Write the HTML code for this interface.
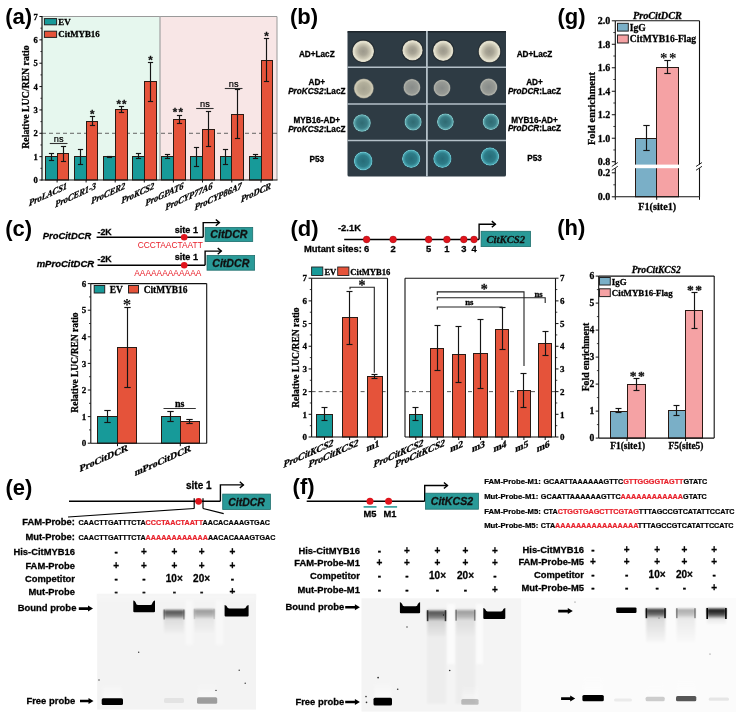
<!DOCTYPE html>
<html><head><meta charset="utf-8"><title>CitMYB16 figure</title>
<style>html,body{margin:0;padding:0;background:#fff;overflow:hidden;}svg{display:block;}</style></head>
<body><svg width="736" height="720" viewBox="0 0 736 720">
<defs>
<radialGradient id="g_white" cx="0.5" cy="0.5" r="0.5">
<stop offset="0" stop-color="#9c998c"/><stop offset="0.35" stop-color="#a9a596"/><stop offset="0.7" stop-color="#cdc9b6"/><stop offset="0.86" stop-color="#e4e1cf"/><stop offset="0.95" stop-color="#dedbc9"/><stop offset="1" stop-color="#8e8d82"/></radialGradient>
<radialGradient id="g_grey" cx="0.5" cy="0.5" r="0.5">
<stop offset="0" stop-color="#a4a190"/><stop offset="0.6" stop-color="#b3b09c"/><stop offset="0.88" stop-color="#cfcbb6"/><stop offset="1" stop-color="#808078"/></radialGradient>
<radialGradient id="g_grey2" cx="0.5" cy="0.5" r="0.5">
<stop offset="0" stop-color="#878b89"/><stop offset="0.7" stop-color="#979a95"/><stop offset="0.9" stop-color="#afb1a9"/><stop offset="1" stop-color="#676d70"/></radialGradient>
<radialGradient id="g_blue" cx="0.5" cy="0.5" r="0.5">
<stop offset="0" stop-color="#2f6a72"/><stop offset="0.6" stop-color="#3a7c85"/><stop offset="0.85" stop-color="#5aa4aa"/><stop offset="0.95" stop-color="#8fd0d2"/><stop offset="1" stop-color="#4c8a90"/></radialGradient>
<radialGradient id="g_blue2" cx="0.5" cy="0.5" r="0.5">
<stop offset="0" stop-color="#266c78"/><stop offset="0.6" stop-color="#2e7c88"/><stop offset="0.85" stop-color="#46a2ae"/><stop offset="0.95" stop-color="#76ccd6"/><stop offset="1" stop-color="#2e6c78"/></radialGradient>
<linearGradient id="smearG" x1="0" y1="0" x2="0" y2="1"><stop offset="0" stop-color="#000" stop-opacity="0.9"/><stop offset="0.35" stop-color="#000" stop-opacity="0.35"/><stop offset="1" stop-color="#000" stop-opacity="0.05"/></linearGradient>
<linearGradient id="bandG" x1="0" y1="0" x2="0" y2="1"><stop offset="0" stop-color="#000" stop-opacity="0.95"/><stop offset="0.6" stop-color="#000" stop-opacity="0.7"/><stop offset="1" stop-color="#000" stop-opacity="0.25"/></linearGradient>
<linearGradient id="glowG" x1="0" y1="0" x2="0" y2="1"><stop offset="0" stop-color="#000" stop-opacity="0"/><stop offset="1" stop-color="#000" stop-opacity="1"/></linearGradient>
<linearGradient id="glowW" x1="0" y1="0" x2="0" y2="1"><stop offset="0" stop-color="#fff" stop-opacity="0"/><stop offset="1" stop-color="#fff" stop-opacity="0.9"/></linearGradient>
<filter id="bl06" x="-30%" y="-80%" width="160%" height="260%"><feGaussianBlur stdDeviation="0.55"/></filter>
<filter id="bl1" x="-30%" y="-80%" width="160%" height="260%"><feGaussianBlur stdDeviation="0.9"/></filter>
<filter id="bl2" x="-30%" y="-30%" width="160%" height="160%"><feGaussianBlur stdDeviation="2"/></filter>
</defs>
<rect x="0" y="0" width="736" height="720" fill="#fff"/>
<rect x="42.00" y="16.50" width="118.00" height="163.50" fill="#e6f7ee" stroke="none" stroke-width="1"/>
<rect x="160.00" y="16.50" width="117.00" height="163.50" fill="#f8e6e6" stroke="none" stroke-width="1"/>
<line x1="42.00" y1="16.50" x2="277.00" y2="16.50" stroke="#9a9a9a" stroke-width="1"/>
<line x1="277.00" y1="16.50" x2="277.00" y2="180.00" stroke="#9a9a9a" stroke-width="1"/>
<line x1="160.00" y1="16.50" x2="160.00" y2="180.00" stroke="#a8a8a8" stroke-width="1.3"/>
<line x1="42.00" y1="133.29" x2="277.00" y2="133.29" stroke="#555" stroke-width="0.9" stroke-dasharray="4,3"/>
<rect x="45.50" y="156.50" width="12.00" height="23.50" fill="#179a99" stroke="#2a1a14" stroke-width="1"/>
<rect x="57.50" y="153.50" width="11.00" height="26.50" fill="#e5533a" stroke="#2a1a14" stroke-width="1"/>
<line x1="51.50" y1="153.50" x2="51.50" y2="160.50" stroke="#151515" stroke-width="1.15"/>
<line x1="48.90" y1="153.50" x2="54.10" y2="153.50" stroke="#151515" stroke-width="1.15"/>
<line x1="48.90" y1="160.50" x2="54.10" y2="160.50" stroke="#151515" stroke-width="1.15"/>
<line x1="63.50" y1="146.50" x2="63.50" y2="161.50" stroke="#151515" stroke-width="1.15"/>
<line x1="60.90" y1="146.50" x2="66.10" y2="146.50" stroke="#151515" stroke-width="1.15"/>
<line x1="60.90" y1="161.50" x2="66.10" y2="161.50" stroke="#151515" stroke-width="1.15"/>
<rect x="74.50" y="156.50" width="12.00" height="23.50" fill="#179a99" stroke="#2a1a14" stroke-width="1"/>
<rect x="86.50" y="121.50" width="11.00" height="58.50" fill="#e5533a" stroke="#2a1a14" stroke-width="1"/>
<line x1="80.50" y1="149.50" x2="80.50" y2="164.50" stroke="#151515" stroke-width="1.15"/>
<line x1="77.90" y1="149.50" x2="83.10" y2="149.50" stroke="#151515" stroke-width="1.15"/>
<line x1="77.90" y1="164.50" x2="83.10" y2="164.50" stroke="#151515" stroke-width="1.15"/>
<line x1="92.50" y1="116.50" x2="92.50" y2="125.50" stroke="#151515" stroke-width="1.15"/>
<line x1="89.90" y1="116.50" x2="95.10" y2="116.50" stroke="#151515" stroke-width="1.15"/>
<line x1="89.90" y1="125.50" x2="95.10" y2="125.50" stroke="#151515" stroke-width="1.15"/>
<rect x="103.50" y="156.50" width="12.00" height="23.50" fill="#179a99" stroke="#2a1a14" stroke-width="1"/>
<rect x="115.50" y="109.50" width="12.00" height="70.50" fill="#e5533a" stroke="#2a1a14" stroke-width="1"/>
<line x1="109.50" y1="156.50" x2="109.50" y2="157.50" stroke="#151515" stroke-width="1.15"/>
<line x1="106.90" y1="156.50" x2="112.10" y2="156.50" stroke="#151515" stroke-width="1.15"/>
<line x1="106.90" y1="157.50" x2="112.10" y2="157.50" stroke="#151515" stroke-width="1.15"/>
<line x1="121.50" y1="106.50" x2="121.50" y2="112.50" stroke="#151515" stroke-width="1.15"/>
<line x1="118.90" y1="106.50" x2="124.10" y2="106.50" stroke="#151515" stroke-width="1.15"/>
<line x1="118.90" y1="112.50" x2="124.10" y2="112.50" stroke="#151515" stroke-width="1.15"/>
<rect x="132.50" y="156.50" width="12.00" height="23.50" fill="#179a99" stroke="#2a1a14" stroke-width="1"/>
<rect x="144.50" y="81.50" width="12.00" height="98.50" fill="#e5533a" stroke="#2a1a14" stroke-width="1"/>
<line x1="138.50" y1="153.50" x2="138.50" y2="158.50" stroke="#151515" stroke-width="1.15"/>
<line x1="135.90" y1="153.50" x2="141.10" y2="153.50" stroke="#151515" stroke-width="1.15"/>
<line x1="135.90" y1="158.50" x2="141.10" y2="158.50" stroke="#151515" stroke-width="1.15"/>
<line x1="150.50" y1="62.50" x2="150.50" y2="101.50" stroke="#151515" stroke-width="1.15"/>
<line x1="147.90" y1="62.50" x2="153.10" y2="62.50" stroke="#151515" stroke-width="1.15"/>
<line x1="147.90" y1="101.50" x2="153.10" y2="101.50" stroke="#151515" stroke-width="1.15"/>
<rect x="161.50" y="156.50" width="12.00" height="23.50" fill="#179a99" stroke="#2a1a14" stroke-width="1"/>
<rect x="173.50" y="119.50" width="12.00" height="60.50" fill="#e5533a" stroke="#2a1a14" stroke-width="1"/>
<line x1="167.50" y1="154.50" x2="167.50" y2="158.50" stroke="#151515" stroke-width="1.15"/>
<line x1="164.90" y1="154.50" x2="170.10" y2="154.50" stroke="#151515" stroke-width="1.15"/>
<line x1="164.90" y1="158.50" x2="170.10" y2="158.50" stroke="#151515" stroke-width="1.15"/>
<line x1="179.50" y1="115.50" x2="179.50" y2="123.50" stroke="#151515" stroke-width="1.15"/>
<line x1="176.90" y1="115.50" x2="182.10" y2="115.50" stroke="#151515" stroke-width="1.15"/>
<line x1="176.90" y1="123.50" x2="182.10" y2="123.50" stroke="#151515" stroke-width="1.15"/>
<rect x="190.50" y="156.50" width="12.00" height="23.50" fill="#179a99" stroke="#2a1a14" stroke-width="1"/>
<rect x="202.50" y="129.50" width="12.00" height="50.50" fill="#e5533a" stroke="#2a1a14" stroke-width="1"/>
<line x1="196.50" y1="147.50" x2="196.50" y2="166.50" stroke="#151515" stroke-width="1.15"/>
<line x1="193.90" y1="147.50" x2="199.10" y2="147.50" stroke="#151515" stroke-width="1.15"/>
<line x1="193.90" y1="166.50" x2="199.10" y2="166.50" stroke="#151515" stroke-width="1.15"/>
<line x1="208.50" y1="111.50" x2="208.50" y2="146.50" stroke="#151515" stroke-width="1.15"/>
<line x1="205.90" y1="111.50" x2="211.10" y2="111.50" stroke="#151515" stroke-width="1.15"/>
<line x1="205.90" y1="146.50" x2="211.10" y2="146.50" stroke="#151515" stroke-width="1.15"/>
<rect x="220.50" y="156.50" width="11.00" height="23.50" fill="#179a99" stroke="#2a1a14" stroke-width="1"/>
<rect x="231.50" y="114.50" width="12.00" height="65.50" fill="#e5533a" stroke="#2a1a14" stroke-width="1"/>
<line x1="225.50" y1="149.50" x2="225.50" y2="164.50" stroke="#151515" stroke-width="1.15"/>
<line x1="222.90" y1="149.50" x2="228.10" y2="149.50" stroke="#151515" stroke-width="1.15"/>
<line x1="222.90" y1="164.50" x2="228.10" y2="164.50" stroke="#151515" stroke-width="1.15"/>
<line x1="237.50" y1="89.50" x2="237.50" y2="138.50" stroke="#151515" stroke-width="1.15"/>
<line x1="234.90" y1="89.50" x2="240.10" y2="89.50" stroke="#151515" stroke-width="1.15"/>
<line x1="234.90" y1="138.50" x2="240.10" y2="138.50" stroke="#151515" stroke-width="1.15"/>
<rect x="249.50" y="156.50" width="12.00" height="23.50" fill="#179a99" stroke="#2a1a14" stroke-width="1"/>
<rect x="261.50" y="60.50" width="11.00" height="119.50" fill="#e5533a" stroke="#2a1a14" stroke-width="1"/>
<line x1="255.50" y1="154.50" x2="255.50" y2="158.50" stroke="#151515" stroke-width="1.15"/>
<line x1="252.90" y1="154.50" x2="258.10" y2="154.50" stroke="#151515" stroke-width="1.15"/>
<line x1="252.90" y1="158.50" x2="258.10" y2="158.50" stroke="#151515" stroke-width="1.15"/>
<line x1="266.50" y1="38.50" x2="266.50" y2="81.50" stroke="#151515" stroke-width="1.15"/>
<line x1="263.90" y1="38.50" x2="269.10" y2="38.50" stroke="#151515" stroke-width="1.15"/>
<line x1="263.90" y1="81.50" x2="269.10" y2="81.50" stroke="#151515" stroke-width="1.15"/>
<line x1="42.00" y1="16.00" x2="42.00" y2="180.50" stroke="#111" stroke-width="1.2"/>
<line x1="41.50" y1="180.00" x2="277.50" y2="180.00" stroke="#111" stroke-width="1.2"/>
<line x1="39.40" y1="180.00" x2="42.00" y2="180.00" stroke="#111" stroke-width="1"/>
<text x="37.80" y="183.00" text-anchor="end" fill="#000" style="font-family:'Liberation Serif', 'Times New Roman', serif;font-size:8.6px;font-weight:bold;font-style:normal" stroke="#000" stroke-width="0.28">0</text>
<line x1="39.40" y1="156.64" x2="42.00" y2="156.64" stroke="#111" stroke-width="1"/>
<text x="37.80" y="159.64" text-anchor="end" fill="#000" style="font-family:'Liberation Serif', 'Times New Roman', serif;font-size:8.6px;font-weight:bold;font-style:normal" stroke="#000" stroke-width="0.28">1</text>
<line x1="39.40" y1="133.29" x2="42.00" y2="133.29" stroke="#111" stroke-width="1"/>
<text x="37.80" y="136.29" text-anchor="end" fill="#000" style="font-family:'Liberation Serif', 'Times New Roman', serif;font-size:8.6px;font-weight:bold;font-style:normal" stroke="#000" stroke-width="0.28">2</text>
<line x1="39.40" y1="109.93" x2="42.00" y2="109.93" stroke="#111" stroke-width="1"/>
<text x="37.80" y="112.93" text-anchor="end" fill="#000" style="font-family:'Liberation Serif', 'Times New Roman', serif;font-size:8.6px;font-weight:bold;font-style:normal" stroke="#000" stroke-width="0.28">3</text>
<line x1="39.40" y1="86.57" x2="42.00" y2="86.57" stroke="#111" stroke-width="1"/>
<text x="37.80" y="89.57" text-anchor="end" fill="#000" style="font-family:'Liberation Serif', 'Times New Roman', serif;font-size:8.6px;font-weight:bold;font-style:normal" stroke="#000" stroke-width="0.28">4</text>
<line x1="39.40" y1="63.21" x2="42.00" y2="63.21" stroke="#111" stroke-width="1"/>
<text x="37.80" y="66.21" text-anchor="end" fill="#000" style="font-family:'Liberation Serif', 'Times New Roman', serif;font-size:8.6px;font-weight:bold;font-style:normal" stroke="#000" stroke-width="0.28">5</text>
<line x1="39.40" y1="39.86" x2="42.00" y2="39.86" stroke="#111" stroke-width="1"/>
<text x="37.80" y="42.86" text-anchor="end" fill="#000" style="font-family:'Liberation Serif', 'Times New Roman', serif;font-size:8.6px;font-weight:bold;font-style:normal" stroke="#000" stroke-width="0.28">6</text>
<line x1="39.40" y1="16.50" x2="42.00" y2="16.50" stroke="#111" stroke-width="1"/>
<text x="37.80" y="19.50" text-anchor="end" fill="#000" style="font-family:'Liberation Serif', 'Times New Roman', serif;font-size:8.6px;font-weight:bold;font-style:normal" stroke="#000" stroke-width="0.28">7</text>
<line x1="40.40" y1="168.32" x2="42.00" y2="168.32" stroke="#111" stroke-width="0.8"/>
<line x1="40.40" y1="144.96" x2="42.00" y2="144.96" stroke="#111" stroke-width="0.8"/>
<line x1="40.40" y1="121.61" x2="42.00" y2="121.61" stroke="#111" stroke-width="0.8"/>
<line x1="40.40" y1="98.25" x2="42.00" y2="98.25" stroke="#111" stroke-width="0.8"/>
<line x1="40.40" y1="74.89" x2="42.00" y2="74.89" stroke="#111" stroke-width="0.8"/>
<line x1="40.40" y1="51.54" x2="42.00" y2="51.54" stroke="#111" stroke-width="0.8"/>
<line x1="40.40" y1="28.18" x2="42.00" y2="28.18" stroke="#111" stroke-width="0.8"/>
<line x1="57.10" y1="180.00" x2="57.10" y2="182.50" stroke="#111" stroke-width="1"/>
<line x1="86.10" y1="180.00" x2="86.10" y2="182.50" stroke="#111" stroke-width="1"/>
<line x1="115.20" y1="180.00" x2="115.20" y2="182.50" stroke="#111" stroke-width="1"/>
<line x1="144.30" y1="180.00" x2="144.30" y2="182.50" stroke="#111" stroke-width="1"/>
<line x1="173.40" y1="180.00" x2="173.40" y2="182.50" stroke="#111" stroke-width="1"/>
<line x1="202.50" y1="180.00" x2="202.50" y2="182.50" stroke="#111" stroke-width="1"/>
<line x1="231.80" y1="180.00" x2="231.80" y2="182.50" stroke="#111" stroke-width="1"/>
<line x1="261.00" y1="180.00" x2="261.00" y2="182.50" stroke="#111" stroke-width="1"/>
<text x="28.50" y="97.00" text-anchor="middle" fill="#000" style="font-family:'Liberation Serif', 'Times New Roman', serif;font-size:9.8px;font-weight:bold;font-style:normal" stroke="#000" stroke-width="0.28" transform="rotate(-90 28.50 97.00)">Relative LUC/REN ratio</text>
<text x="67.10" y="188.50" text-anchor="end" fill="#000" style="font-family:'Liberation Serif', 'Times New Roman', serif;font-size:9.4px;font-weight:bold;font-style:italic" stroke="#000" stroke-width="0.28" transform="translate(67.10 188.50) skewY(-25) scale(0.9 1) translate(-67.10 -188.50)">ProLACS1</text>
<text x="96.10" y="188.50" text-anchor="end" fill="#000" style="font-family:'Liberation Serif', 'Times New Roman', serif;font-size:9.4px;font-weight:bold;font-style:italic" stroke="#000" stroke-width="0.28" transform="translate(96.10 188.50) skewY(-25) scale(0.9 1) translate(-96.10 -188.50)">ProCER1-3</text>
<text x="125.20" y="188.50" text-anchor="end" fill="#000" style="font-family:'Liberation Serif', 'Times New Roman', serif;font-size:9.4px;font-weight:bold;font-style:italic" stroke="#000" stroke-width="0.28" transform="translate(125.20 188.50) skewY(-25) scale(0.9 1) translate(-125.20 -188.50)">ProCER2</text>
<text x="154.30" y="188.50" text-anchor="end" fill="#000" style="font-family:'Liberation Serif', 'Times New Roman', serif;font-size:9.4px;font-weight:bold;font-style:italic" stroke="#000" stroke-width="0.28" transform="translate(154.30 188.50) skewY(-25) scale(0.9 1) translate(-154.30 -188.50)">ProKCS2</text>
<text x="183.40" y="188.50" text-anchor="end" fill="#000" style="font-family:'Liberation Serif', 'Times New Roman', serif;font-size:9.4px;font-weight:bold;font-style:italic" stroke="#000" stroke-width="0.28" transform="translate(183.40 188.50) skewY(-25) scale(0.9 1) translate(-183.40 -188.50)">ProGPAT6</text>
<text x="212.50" y="188.50" text-anchor="end" fill="#000" style="font-family:'Liberation Serif', 'Times New Roman', serif;font-size:9.4px;font-weight:bold;font-style:italic" stroke="#000" stroke-width="0.28" transform="translate(212.50 188.50) skewY(-25) scale(0.9 1) translate(-212.50 -188.50)">ProCYP77A6</text>
<text x="241.80" y="188.50" text-anchor="end" fill="#000" style="font-family:'Liberation Serif', 'Times New Roman', serif;font-size:9.4px;font-weight:bold;font-style:italic" stroke="#000" stroke-width="0.28" transform="translate(241.80 188.50) skewY(-25) scale(0.9 1) translate(-241.80 -188.50)">ProCYP86A7</text>
<text x="271.00" y="188.50" text-anchor="end" fill="#000" style="font-family:'Liberation Serif', 'Times New Roman', serif;font-size:9.4px;font-weight:bold;font-style:italic" stroke="#000" stroke-width="0.28" transform="translate(271.00 188.50) skewY(-25) scale(0.9 1) translate(-271.00 -188.50)">ProDCR</text>
<line x1="49.80" y1="143.50" x2="67.50" y2="143.50" stroke="#333" stroke-width="1.1"/>
<text x="58.65" y="141.60" text-anchor="middle" fill="#000" style="font-family:'Liberation Sans', Arial, sans-serif;font-size:9.2px;font-weight:normal;font-style:normal" stroke="#000" stroke-width="0.2">ns</text>
<line x1="196.20" y1="108.50" x2="213.60" y2="108.50" stroke="#333" stroke-width="1.1"/>
<text x="204.90" y="106.60" text-anchor="middle" fill="#000" style="font-family:'Liberation Sans', Arial, sans-serif;font-size:9.2px;font-weight:normal;font-style:normal" stroke="#000" stroke-width="0.2">ns</text>
<line x1="224.80" y1="88.50" x2="242.50" y2="88.50" stroke="#333" stroke-width="1.1"/>
<text x="233.65" y="86.60" text-anchor="middle" fill="#000" style="font-family:'Liberation Sans', Arial, sans-serif;font-size:9.2px;font-weight:normal;font-style:normal" stroke="#000" stroke-width="0.2">ns</text>
<text x="92.30" y="118.03" text-anchor="middle" fill="#111" style="font-family:'Liberation Sans', Arial, sans-serif;font-size:11.5px;font-weight:bold;font-style:normal" stroke="#111" stroke-width="0.28">*</text>
<text x="122.10" y="107.53" text-anchor="middle" fill="#111" style="font-family:'Liberation Sans', Arial, sans-serif;font-size:11.5px;font-weight:bold;font-style:normal" stroke="#111" stroke-width="0.28" letter-spacing="1.2">**</text>
<text x="150.40" y="64.03" text-anchor="middle" fill="#111" style="font-family:'Liberation Sans', Arial, sans-serif;font-size:11.5px;font-weight:bold;font-style:normal" stroke="#111" stroke-width="0.28">*</text>
<text x="178.50" y="116.33" text-anchor="middle" fill="#111" style="font-family:'Liberation Sans', Arial, sans-serif;font-size:11.5px;font-weight:bold;font-style:normal" stroke="#111" stroke-width="0.28" letter-spacing="1.2">**</text>
<text x="266.50" y="39.93" text-anchor="middle" fill="#111" style="font-family:'Liberation Sans', Arial, sans-serif;font-size:11.5px;font-weight:bold;font-style:normal" stroke="#111" stroke-width="0.28">*</text>
<rect x="44.40" y="18.60" width="12.20" height="6.20" fill="#179a99" stroke="#222" stroke-width="1"/>
<text x="58.30" y="24.90" text-anchor="start" fill="#000" style="font-family:'Liberation Serif', 'Times New Roman', serif;font-size:8.9px;font-weight:bold;font-style:normal" stroke="#000" stroke-width="0.28">EV</text>
<rect x="44.40" y="31.20" width="12.20" height="6.20" fill="#e5533a" stroke="#222" stroke-width="1"/>
<text x="58.30" y="37.40" text-anchor="start" fill="#000" style="font-family:'Liberation Serif', 'Times New Roman', serif;font-size:8.9px;font-weight:bold;font-style:normal" stroke="#000" stroke-width="0.28">CitMYB16</text>
<text x="5.20" y="23.70" text-anchor="start" fill="#000" style="font-family:'Liberation Sans', Arial, sans-serif;font-size:22px;font-weight:bold;font-style:normal">(a)</text>
<text x="290.00" y="23.60" text-anchor="start" fill="#000" style="font-family:'Liberation Sans', Arial, sans-serif;font-size:22px;font-weight:bold;font-style:normal">(b)</text>
<rect x="347.5" y="31.0" width="158.5" height="145.5" fill="#2e3b44" rx="1.5"/>
<line x1="347.50" y1="31.80" x2="506.00" y2="31.80" stroke="#1d252b" stroke-width="1.6"/>
<line x1="347.50" y1="67.30" x2="506.00" y2="67.30" stroke="#b4c0c8" stroke-width="1.6"/>
<line x1="347.50" y1="104.00" x2="506.00" y2="104.00" stroke="#b4c0c8" stroke-width="1.6"/>
<line x1="347.50" y1="140.50" x2="506.00" y2="140.50" stroke="#b4c0c8" stroke-width="1.6"/>
<line x1="426.90" y1="31.00" x2="426.90" y2="176.50" stroke="#b4c0c8" stroke-width="1.8"/>
<circle cx="363.20" cy="51.30" r="11.70" fill="#1c2228" opacity="0.7"/>
<circle cx="363.20" cy="51.30" r="10.80" fill="url(#g_white)"/>
<circle cx="412.50" cy="50.30" r="11.10" fill="#1c2228" opacity="0.7"/>
<circle cx="412.50" cy="50.30" r="10.20" fill="url(#g_white)"/>
<circle cx="443.20" cy="50.70" r="11.10" fill="#1c2228" opacity="0.7"/>
<circle cx="443.20" cy="50.70" r="10.20" fill="url(#g_white)"/>
<circle cx="489.50" cy="51.50" r="11.80" fill="#1c2228" opacity="0.7"/>
<circle cx="489.50" cy="51.50" r="10.90" fill="url(#g_white)"/>
<circle cx="363.80" cy="88.50" r="10.00" fill="url(#g_grey)"/>
<circle cx="411.90" cy="87.40" r="8.60" fill="url(#g_grey2)"/>
<circle cx="442.00" cy="88.00" r="8.60" fill="url(#g_grey2)"/>
<circle cx="488.70" cy="87.10" r="8.80" fill="url(#g_grey2)"/>
<circle cx="362.00" cy="123.00" r="8.80" fill="url(#g_blue)"/>
<circle cx="413.10" cy="122.00" r="8.60" fill="url(#g_blue)"/>
<circle cx="445.40" cy="121.80" r="8.40" fill="url(#g_blue)"/>
<circle cx="490.90" cy="121.80" r="8.20" fill="url(#g_blue)"/>
<circle cx="363.20" cy="161.00" r="9.40" fill="url(#g_blue2)"/>
<circle cx="411.20" cy="158.70" r="9.20" fill="url(#g_blue2)"/>
<circle cx="442.40" cy="158.70" r="9.20" fill="url(#g_blue2)"/>
<circle cx="490.00" cy="156.50" r="9.20" fill="url(#g_blue2)"/>
<text x="316.80" y="57.10" text-anchor="middle" fill="#000" style="font-family:'Liberation Sans', Arial, sans-serif;font-size:8.2px;font-weight:bold;font-style:normal" stroke="#000" stroke-width="0.28">AD+LacZ</text>
<text x="316.80" y="85.40" text-anchor="middle" fill="#000" style="font-family:'Liberation Sans', Arial, sans-serif;font-size:8.2px;font-weight:bold;font-style:normal" stroke="#000" stroke-width="0.28">AD+</text>
<text x="316.80" y="94.00" text-anchor="middle" style="font-family:'Liberation Sans', Arial, sans-serif;font-size:8.2px;font-weight:bold" stroke="#000" stroke-width="0.28"><tspan font-style="italic">ProKCS2</tspan>:LacZ</text>
<text x="316.80" y="122.90" text-anchor="middle" fill="#000" style="font-family:'Liberation Sans', Arial, sans-serif;font-size:8.2px;font-weight:bold;font-style:normal" stroke="#000" stroke-width="0.28">MYB16-AD+</text>
<text x="316.80" y="131.70" text-anchor="middle" style="font-family:'Liberation Sans', Arial, sans-serif;font-size:8.2px;font-weight:bold" stroke="#000" stroke-width="0.28"><tspan font-style="italic">ProKCS2</tspan>:LacZ</text>
<text x="316.80" y="161.50" text-anchor="middle" fill="#000" style="font-family:'Liberation Sans', Arial, sans-serif;font-size:8.2px;font-weight:bold;font-style:normal" stroke="#000" stroke-width="0.28">P53</text>
<text x="534.50" y="56.70" text-anchor="middle" fill="#000" style="font-family:'Liberation Sans', Arial, sans-serif;font-size:8.2px;font-weight:bold;font-style:normal" stroke="#000" stroke-width="0.28">AD+LacZ</text>
<text x="534.50" y="85.40" text-anchor="middle" fill="#000" style="font-family:'Liberation Sans', Arial, sans-serif;font-size:8.2px;font-weight:bold;font-style:normal" stroke="#000" stroke-width="0.28">AD+</text>
<text x="534.50" y="93.75" text-anchor="middle" style="font-family:'Liberation Sans', Arial, sans-serif;font-size:8.2px;font-weight:bold" stroke="#000" stroke-width="0.28"><tspan font-style="italic">ProDCR</tspan>:LacZ</text>
<text x="534.50" y="122.60" text-anchor="middle" fill="#000" style="font-family:'Liberation Sans', Arial, sans-serif;font-size:8.2px;font-weight:bold;font-style:normal" stroke="#000" stroke-width="0.28">MYB16-AD+</text>
<text x="534.50" y="131.40" text-anchor="middle" style="font-family:'Liberation Sans', Arial, sans-serif;font-size:8.2px;font-weight:bold" stroke="#000" stroke-width="0.28"><tspan font-style="italic">ProDCR</tspan>:LacZ</text>
<text x="534.50" y="161.20" text-anchor="middle" fill="#000" style="font-family:'Liberation Sans', Arial, sans-serif;font-size:8.2px;font-weight:bold;font-style:normal" stroke="#000" stroke-width="0.28">P53</text>
<text x="557.50" y="23.75" text-anchor="start" fill="#000" style="font-family:'Liberation Sans', Arial, sans-serif;font-size:22px;font-weight:bold;font-style:normal">(g)</text>
<rect x="635.50" y="138.50" width="21.00" height="58.30" fill="#7aafc7" stroke="#2a1a14" stroke-width="1"/>
<rect x="656.50" y="67.50" width="22.00" height="129.30" fill="#f5a2a4" stroke="#2a1a14" stroke-width="1"/>
<line x1="646.50" y1="125.50" x2="646.50" y2="150.50" stroke="#151515" stroke-width="1.15"/>
<line x1="643.30" y1="125.50" x2="649.70" y2="125.50" stroke="#151515" stroke-width="1.15"/>
<line x1="643.30" y1="150.50" x2="649.70" y2="150.50" stroke="#151515" stroke-width="1.15"/>
<line x1="667.50" y1="60.50" x2="667.50" y2="73.50" stroke="#151515" stroke-width="1.15"/>
<line x1="664.30" y1="60.50" x2="670.70" y2="60.50" stroke="#151515" stroke-width="1.15"/>
<line x1="664.30" y1="73.50" x2="670.70" y2="73.50" stroke="#151515" stroke-width="1.15"/>
<line x1="615.30" y1="20.80" x2="699.50" y2="20.80" stroke="#111" stroke-width="1.1"/>
<line x1="699.50" y1="20.80" x2="699.50" y2="196.80" stroke="#111" stroke-width="1.1"/>
<line x1="615.30" y1="20.80" x2="615.30" y2="196.80" stroke="#111" stroke-width="1.1"/>
<line x1="615.30" y1="196.80" x2="699.50" y2="196.80" stroke="#111" stroke-width="1.1"/>
<rect x="611.30" y="164.60" width="92.20" height="3.60" fill="#fff" stroke="none" stroke-width="1"/>
<line x1="611.80" y1="166.50" x2="617.80" y2="162.50" stroke="#111" stroke-width="0.9"/>
<line x1="611.80" y1="170.30" x2="617.80" y2="166.30" stroke="#111" stroke-width="0.9"/>
<line x1="696.00" y1="166.50" x2="702.00" y2="162.50" stroke="#111" stroke-width="0.9"/>
<line x1="696.00" y1="170.30" x2="702.00" y2="166.30" stroke="#111" stroke-width="0.9"/>
<line x1="611.80" y1="161.70" x2="615.30" y2="161.70" stroke="#111" stroke-width="1"/>
<text x="610.30" y="165.10" text-anchor="end" fill="#000" style="font-family:'Liberation Serif', 'Times New Roman', serif;font-size:10.0px;font-weight:bold;font-style:normal" stroke="#000" stroke-width="0.28">0.8</text>
<line x1="611.80" y1="138.22" x2="615.30" y2="138.22" stroke="#111" stroke-width="1"/>
<text x="610.30" y="141.62" text-anchor="end" fill="#000" style="font-family:'Liberation Serif', 'Times New Roman', serif;font-size:10.0px;font-weight:bold;font-style:normal" stroke="#000" stroke-width="0.28">1.0</text>
<line x1="611.80" y1="114.73" x2="615.30" y2="114.73" stroke="#111" stroke-width="1"/>
<text x="610.30" y="118.13" text-anchor="end" fill="#000" style="font-family:'Liberation Serif', 'Times New Roman', serif;font-size:10.0px;font-weight:bold;font-style:normal" stroke="#000" stroke-width="0.28">1.2</text>
<line x1="611.80" y1="91.25" x2="615.30" y2="91.25" stroke="#111" stroke-width="1"/>
<text x="610.30" y="94.65" text-anchor="end" fill="#000" style="font-family:'Liberation Serif', 'Times New Roman', serif;font-size:10.0px;font-weight:bold;font-style:normal" stroke="#000" stroke-width="0.28">1.4</text>
<line x1="611.80" y1="67.77" x2="615.30" y2="67.77" stroke="#111" stroke-width="1"/>
<text x="610.30" y="71.17" text-anchor="end" fill="#000" style="font-family:'Liberation Serif', 'Times New Roman', serif;font-size:10.0px;font-weight:bold;font-style:normal" stroke="#000" stroke-width="0.28">1.6</text>
<line x1="611.80" y1="44.28" x2="615.30" y2="44.28" stroke="#111" stroke-width="1"/>
<text x="610.30" y="47.68" text-anchor="end" fill="#000" style="font-family:'Liberation Serif', 'Times New Roman', serif;font-size:10.0px;font-weight:bold;font-style:normal" stroke="#000" stroke-width="0.28">1.8</text>
<line x1="611.80" y1="20.80" x2="615.30" y2="20.80" stroke="#111" stroke-width="1"/>
<text x="610.30" y="24.20" text-anchor="end" fill="#000" style="font-family:'Liberation Serif', 'Times New Roman', serif;font-size:10.0px;font-weight:bold;font-style:normal" stroke="#000" stroke-width="0.28">2.0</text>
<line x1="613.30" y1="149.96" x2="615.30" y2="149.96" stroke="#111" stroke-width="0.8"/>
<line x1="613.30" y1="126.47" x2="615.30" y2="126.47" stroke="#111" stroke-width="0.8"/>
<line x1="613.30" y1="102.99" x2="615.30" y2="102.99" stroke="#111" stroke-width="0.8"/>
<line x1="613.30" y1="79.51" x2="615.30" y2="79.51" stroke="#111" stroke-width="0.8"/>
<line x1="613.30" y1="56.03" x2="615.30" y2="56.03" stroke="#111" stroke-width="0.8"/>
<line x1="613.30" y1="32.54" x2="615.30" y2="32.54" stroke="#111" stroke-width="0.8"/>
<line x1="611.80" y1="196.80" x2="615.30" y2="196.80" stroke="#111" stroke-width="1"/>
<text x="610.30" y="200.20" text-anchor="end" fill="#000" style="font-family:'Liberation Serif', 'Times New Roman', serif;font-size:10.0px;font-weight:bold;font-style:normal" stroke="#000" stroke-width="0.28">0.0</text>
<line x1="611.80" y1="172.80" x2="615.30" y2="172.80" stroke="#111" stroke-width="1"/>
<text x="610.30" y="176.20" text-anchor="end" fill="#000" style="font-family:'Liberation Serif', 'Times New Roman', serif;font-size:10.0px;font-weight:bold;font-style:normal" stroke="#000" stroke-width="0.28">0.2</text>
<line x1="613.30" y1="184.80" x2="615.30" y2="184.80" stroke="#111" stroke-width="0.8"/>
<line x1="615.30" y1="196.80" x2="615.30" y2="199.80" stroke="#111" stroke-width="1"/>
<line x1="656.70" y1="196.80" x2="656.70" y2="199.80" stroke="#111" stroke-width="1"/>
<line x1="699.50" y1="196.80" x2="699.50" y2="199.80" stroke="#111" stroke-width="1"/>
<text x="657.20" y="210.00" text-anchor="middle" fill="#000" style="font-family:'Liberation Serif', 'Times New Roman', serif;font-size:10.2px;font-weight:bold;font-style:normal" stroke="#000" stroke-width="0.28">F1(site1)</text>
<text x="594.60" y="108.50" text-anchor="middle" fill="#000" style="font-family:'Liberation Serif', 'Times New Roman', serif;font-size:10.3px;font-weight:bold;font-style:normal" stroke="#000" stroke-width="0.28" transform="rotate(-90 594.60 108.50)">Fold enrichment</text>
<text x="657.40" y="18.60" text-anchor="middle" fill="#000" style="font-family:'Liberation Serif', 'Times New Roman', serif;font-size:10.25px;font-weight:bold;font-style:italic" stroke="#000" stroke-width="0.28">ProCitDCR</text>
<rect x="617.50" y="23.30" width="10.80" height="7.80" fill="#7aafc7" stroke="#222" stroke-width="1"/>
<text x="629.80" y="30.60" text-anchor="start" fill="#000" style="font-family:'Liberation Serif', 'Times New Roman', serif;font-size:9.65px;font-weight:bold;font-style:normal" stroke="#000" stroke-width="0.28">IgG</text>
<rect x="617.50" y="35.00" width="10.80" height="8.00" fill="#f5a2a4" stroke="#222" stroke-width="1"/>
<text x="629.80" y="42.40" text-anchor="start" fill="#000" style="font-family:'Liberation Serif', 'Times New Roman', serif;font-size:9.65px;font-weight:bold;font-style:normal" stroke="#000" stroke-width="0.28">CitMYB16-Flag</text>
<text x="668.95" y="63.10" text-anchor="middle" fill="#111" style="font-family:'Liberation Serif', 'Times New Roman', serif;font-size:15px;font-weight:bold;font-style:normal" letter-spacing="1.5">**</text>
<text x="5.20" y="236.00" text-anchor="start" fill="#000" style="font-family:'Liberation Sans', Arial, sans-serif;font-size:22px;font-weight:bold;font-style:normal">(c)</text>
<text x="91.30" y="238.80" text-anchor="end" fill="#000" style="font-family:'Liberation Sans', Arial, sans-serif;font-size:9.4px;font-weight:bold;font-style:italic" stroke="#000" stroke-width="0.28">ProCitDCR</text>
<text x="97.50" y="235.00" text-anchor="start" fill="#000" style="font-family:'Liberation Sans', Arial, sans-serif;font-size:8.8px;font-weight:bold;font-style:normal" stroke="#000" stroke-width="0.28">-2K</text>
<line x1="96.60" y1="237.30" x2="203.20" y2="237.30" stroke="#000" stroke-width="1.6"/>
<path d="M203.20,237.30 L203.20,222.60 L219.40,222.60" stroke="#000" stroke-width="1.4" fill="none"/>
<path d="M215.80,219.54 L219.40,222.60 L215.80,225.66" stroke="#000" stroke-width="1.4" fill="none"/>
<circle cx="184.20" cy="237.30" r="3.30" fill="#e0141c" stroke="none" stroke-width="1"/>
<text x="186.40" y="232.50" text-anchor="middle" fill="#000" style="font-family:'Liberation Sans', Arial, sans-serif;font-size:9.15px;font-weight:bold;font-style:normal" stroke="#000" stroke-width="0.28">site 1</text>
<rect x="205.10" y="227.40" width="47.60" height="14.20" fill="#2a9a98" stroke="#1f6f6d" stroke-width="0.8"/>
<text x="228.90" y="238.32" text-anchor="middle" fill="#101010" style="font-family:'Liberation Sans', Arial, sans-serif;font-size:10.6px;font-weight:bold;font-style:italic" stroke="#101010" stroke-width="0.28">CitDCR</text>
<text x="170.20" y="247.70" text-anchor="middle" fill="#e8202a" style="font-family:'Liberation Sans', Arial, sans-serif;font-size:8.4px;font-weight:normal;font-style:normal">CCCTAACTAATT</text>
<text x="94.20" y="266.70" text-anchor="end" fill="#000" style="font-family:'Liberation Sans', Arial, sans-serif;font-size:9.5px;font-weight:bold;font-style:italic" stroke="#000" stroke-width="0.28">mProCitDCR</text>
<text x="97.50" y="262.20" text-anchor="start" fill="#000" style="font-family:'Liberation Sans', Arial, sans-serif;font-size:8.8px;font-weight:bold;font-style:normal" stroke="#000" stroke-width="0.28">-2K</text>
<line x1="97.50" y1="265.20" x2="205.10" y2="265.20" stroke="#000" stroke-width="1.6"/>
<path d="M205.10,265.20 L205.10,251.10 L221.30,251.10" stroke="#000" stroke-width="1.4" fill="none"/>
<path d="M217.70,248.04 L221.30,251.10 L217.70,254.16" stroke="#000" stroke-width="1.4" fill="none"/>
<circle cx="184.20" cy="265.20" r="3.30" fill="#e0141c" stroke="none" stroke-width="1"/>
<text x="186.40" y="259.70" text-anchor="middle" fill="#000" style="font-family:'Liberation Sans', Arial, sans-serif;font-size:9.15px;font-weight:bold;font-style:normal" stroke="#000" stroke-width="0.28">site 1</text>
<rect x="207.00" y="255.50" width="47.60" height="14.70" fill="#2a9a98" stroke="#1f6f6d" stroke-width="0.8"/>
<text x="230.80" y="266.67" text-anchor="middle" fill="#101010" style="font-family:'Liberation Sans', Arial, sans-serif;font-size:10.6px;font-weight:bold;font-style:italic" stroke="#101010" stroke-width="0.28">CitDCR</text>
<text x="167.80" y="275.50" text-anchor="middle" fill="#e8202a" style="font-family:'Liberation Sans', Arial, sans-serif;font-size:8.4px;font-weight:normal;font-style:normal">AAAAAAAAAAAA</text>
<rect x="97.50" y="416.50" width="20.00" height="26.70" fill="#179a99" stroke="#2a1a14" stroke-width="1"/>
<rect x="117.50" y="347.50" width="19.00" height="95.70" fill="#e5533a" stroke="#2a1a14" stroke-width="1"/>
<rect x="161.50" y="416.50" width="19.00" height="26.70" fill="#179a99" stroke="#2a1a14" stroke-width="1"/>
<rect x="180.50" y="421.50" width="19.00" height="21.70" fill="#e5533a" stroke="#2a1a14" stroke-width="1"/>
<line x1="107.50" y1="410.50" x2="107.50" y2="422.50" stroke="#151515" stroke-width="1.15"/>
<line x1="104.30" y1="410.50" x2="110.70" y2="410.50" stroke="#151515" stroke-width="1.15"/>
<line x1="104.30" y1="422.50" x2="110.70" y2="422.50" stroke="#151515" stroke-width="1.15"/>
<line x1="127.50" y1="307.50" x2="127.50" y2="387.50" stroke="#151515" stroke-width="1.15"/>
<line x1="124.30" y1="307.50" x2="130.70" y2="307.50" stroke="#151515" stroke-width="1.15"/>
<line x1="124.30" y1="387.50" x2="130.70" y2="387.50" stroke="#151515" stroke-width="1.15"/>
<line x1="170.50" y1="411.50" x2="170.50" y2="421.50" stroke="#151515" stroke-width="1.15"/>
<line x1="167.30" y1="411.50" x2="173.70" y2="411.50" stroke="#151515" stroke-width="1.15"/>
<line x1="167.30" y1="421.50" x2="173.70" y2="421.50" stroke="#151515" stroke-width="1.15"/>
<line x1="189.50" y1="419.50" x2="189.50" y2="423.50" stroke="#151515" stroke-width="1.15"/>
<line x1="186.30" y1="419.50" x2="192.70" y2="419.50" stroke="#151515" stroke-width="1.15"/>
<line x1="186.30" y1="423.50" x2="192.70" y2="423.50" stroke="#151515" stroke-width="1.15"/>
<line x1="90.80" y1="283.60" x2="206.70" y2="283.60" stroke="#111" stroke-width="1.1"/>
<line x1="206.70" y1="283.60" x2="206.70" y2="443.20" stroke="#111" stroke-width="1.1"/>
<line x1="90.80" y1="283.60" x2="90.80" y2="443.20" stroke="#111" stroke-width="1.1"/>
<line x1="90.80" y1="443.20" x2="206.70" y2="443.20" stroke="#111" stroke-width="1.1"/>
<line x1="87.80" y1="443.20" x2="90.80" y2="443.20" stroke="#111" stroke-width="1"/>
<text x="86.30" y="446.40" text-anchor="end" fill="#000" style="font-family:'Liberation Serif', 'Times New Roman', serif;font-size:9.0px;font-weight:bold;font-style:normal" stroke="#000" stroke-width="0.28">0</text>
<line x1="87.80" y1="416.60" x2="90.80" y2="416.60" stroke="#111" stroke-width="1"/>
<text x="86.30" y="419.80" text-anchor="end" fill="#000" style="font-family:'Liberation Serif', 'Times New Roman', serif;font-size:9.0px;font-weight:bold;font-style:normal" stroke="#000" stroke-width="0.28">1</text>
<line x1="87.80" y1="390.00" x2="90.80" y2="390.00" stroke="#111" stroke-width="1"/>
<text x="86.30" y="393.20" text-anchor="end" fill="#000" style="font-family:'Liberation Serif', 'Times New Roman', serif;font-size:9.0px;font-weight:bold;font-style:normal" stroke="#000" stroke-width="0.28">2</text>
<line x1="87.80" y1="363.40" x2="90.80" y2="363.40" stroke="#111" stroke-width="1"/>
<text x="86.30" y="366.60" text-anchor="end" fill="#000" style="font-family:'Liberation Serif', 'Times New Roman', serif;font-size:9.0px;font-weight:bold;font-style:normal" stroke="#000" stroke-width="0.28">3</text>
<line x1="87.80" y1="336.80" x2="90.80" y2="336.80" stroke="#111" stroke-width="1"/>
<text x="86.30" y="340.00" text-anchor="end" fill="#000" style="font-family:'Liberation Serif', 'Times New Roman', serif;font-size:9.0px;font-weight:bold;font-style:normal" stroke="#000" stroke-width="0.28">4</text>
<line x1="87.80" y1="310.20" x2="90.80" y2="310.20" stroke="#111" stroke-width="1"/>
<text x="86.30" y="313.40" text-anchor="end" fill="#000" style="font-family:'Liberation Serif', 'Times New Roman', serif;font-size:9.0px;font-weight:bold;font-style:normal" stroke="#000" stroke-width="0.28">5</text>
<line x1="87.80" y1="283.60" x2="90.80" y2="283.60" stroke="#111" stroke-width="1"/>
<text x="86.30" y="286.80" text-anchor="end" fill="#000" style="font-family:'Liberation Serif', 'Times New Roman', serif;font-size:9.0px;font-weight:bold;font-style:normal" stroke="#000" stroke-width="0.28">6</text>
<line x1="89.00" y1="429.90" x2="90.80" y2="429.90" stroke="#111" stroke-width="0.8"/>
<line x1="89.00" y1="403.30" x2="90.80" y2="403.30" stroke="#111" stroke-width="0.8"/>
<line x1="89.00" y1="376.70" x2="90.80" y2="376.70" stroke="#111" stroke-width="0.8"/>
<line x1="89.00" y1="350.10" x2="90.80" y2="350.10" stroke="#111" stroke-width="0.8"/>
<line x1="89.00" y1="323.50" x2="90.80" y2="323.50" stroke="#111" stroke-width="0.8"/>
<line x1="89.00" y1="296.90" x2="90.80" y2="296.90" stroke="#111" stroke-width="0.8"/>
<line x1="117.50" y1="443.20" x2="117.50" y2="446.20" stroke="#111" stroke-width="1"/>
<line x1="180.30" y1="443.20" x2="180.30" y2="446.20" stroke="#111" stroke-width="1"/>
<text x="77.80" y="362.50" text-anchor="middle" fill="#000" style="font-family:'Liberation Serif', 'Times New Roman', serif;font-size:9.5px;font-weight:bold;font-style:normal" stroke="#000" stroke-width="0.28" transform="rotate(-90 77.80 362.50)">Relative LUC/REN ratio</text>
<text x="127.10" y="310.42" text-anchor="middle" fill="#111" style="font-family:'Liberation Serif', 'Times New Roman', serif;font-size:17px;font-weight:bold;font-style:normal">*</text>
<line x1="163.50" y1="408.50" x2="195.80" y2="408.50" stroke="#333" stroke-width="1.1"/>
<text x="179.65" y="406.60" text-anchor="middle" fill="#000" style="font-family:'Liberation Serif', 'Times New Roman', serif;font-size:10.0px;font-weight:bold;font-style:normal" stroke="#000" stroke-width="0.28" stroke="#000" stroke-width="0.2">ns</text>
<rect x="94.20" y="285.50" width="10.50" height="7.50" fill="#179a99" stroke="#222" stroke-width="1"/>
<text x="109.80" y="292.60" text-anchor="start" fill="#000" style="font-family:'Liberation Serif', 'Times New Roman', serif;font-size:9.4px;font-weight:bold;font-style:normal" stroke="#000" stroke-width="0.28">EV</text>
<rect x="128.50" y="285.50" width="10.00" height="7.50" fill="#e5533a" stroke="#222" stroke-width="1"/>
<text x="143.70" y="292.60" text-anchor="start" fill="#000" style="font-family:'Liberation Serif', 'Times New Roman', serif;font-size:9.4px;font-weight:bold;font-style:normal" stroke="#000" stroke-width="0.28">CitMYB16</text>
<text x="128.00" y="450.50" text-anchor="end" fill="#000" style="font-family:'Liberation Serif', 'Times New Roman', serif;font-size:9.6px;font-weight:bold;font-style:normal" stroke="#000" stroke-width="0.28" transform="translate(128.00 450.50) skewY(-24) scale(1.0 1) translate(-128.00 -450.50)">ProCitDCR</text>
<text x="191.00" y="451.00" text-anchor="end" fill="#000" style="font-family:'Liberation Serif', 'Times New Roman', serif;font-size:9.6px;font-weight:bold;font-style:normal" stroke="#000" stroke-width="0.28" transform="translate(191.00 451.00) skewY(-24) scale(1.0 1) translate(-191.00 -451.00)">mProCitDCR</text>
<text x="290.50" y="235.75" text-anchor="start" fill="#000" style="font-family:'Liberation Sans', Arial, sans-serif;font-size:22px;font-weight:bold;font-style:normal">(d)</text>
<text x="338.00" y="230.90" text-anchor="start" fill="#000" style="font-family:'Liberation Sans', Arial, sans-serif;font-size:9.4px;font-weight:bold;font-style:normal" stroke="#000" stroke-width="0.28">-2.1K</text>
<line x1="344.20" y1="239.50" x2="479.10" y2="239.50" stroke="#000" stroke-width="1.5"/>
<path d="M479.10,239.50 L479.10,224.20 L495.40,224.20" stroke="#000" stroke-width="1.4" fill="none"/>
<path d="M491.80,221.14 L495.40,224.20 L491.80,227.26" stroke="#000" stroke-width="1.4" fill="none"/>
<circle cx="366.60" cy="239.50" r="3.40" fill="#e0141c" stroke="#8a0a10" stroke-width="0.4"/>
<circle cx="393.10" cy="239.50" r="3.40" fill="#e0141c" stroke="#8a0a10" stroke-width="0.4"/>
<circle cx="428.60" cy="239.50" r="3.40" fill="#e0141c" stroke="#8a0a10" stroke-width="0.4"/>
<circle cx="446.90" cy="239.50" r="3.40" fill="#e0141c" stroke="#8a0a10" stroke-width="0.4"/>
<circle cx="463.80" cy="239.50" r="3.40" fill="#e0141c" stroke="#8a0a10" stroke-width="0.4"/>
<circle cx="474.00" cy="239.50" r="3.40" fill="#e0141c" stroke="#8a0a10" stroke-width="0.4"/>
<text x="304.00" y="252.30" text-anchor="start" fill="#000" style="font-family:'Liberation Sans', Arial, sans-serif;font-size:9.4px;font-weight:bold;font-style:normal" stroke="#000" stroke-width="0.28">Mutant sites:</text>
<text x="366.60" y="252.30" text-anchor="middle" fill="#000" style="font-family:'Liberation Sans', Arial, sans-serif;font-size:9.4px;font-weight:bold;font-style:normal" stroke="#000" stroke-width="0.28">6</text>
<text x="393.10" y="252.30" text-anchor="middle" fill="#000" style="font-family:'Liberation Sans', Arial, sans-serif;font-size:9.4px;font-weight:bold;font-style:normal" stroke="#000" stroke-width="0.28">2</text>
<text x="428.60" y="252.30" text-anchor="middle" fill="#000" style="font-family:'Liberation Sans', Arial, sans-serif;font-size:9.4px;font-weight:bold;font-style:normal" stroke="#000" stroke-width="0.28">5</text>
<text x="446.90" y="252.30" text-anchor="middle" fill="#000" style="font-family:'Liberation Sans', Arial, sans-serif;font-size:9.4px;font-weight:bold;font-style:normal" stroke="#000" stroke-width="0.28">1</text>
<text x="463.80" y="252.30" text-anchor="middle" fill="#000" style="font-family:'Liberation Sans', Arial, sans-serif;font-size:9.4px;font-weight:bold;font-style:normal" stroke="#000" stroke-width="0.28">3</text>
<text x="474.00" y="252.30" text-anchor="middle" fill="#000" style="font-family:'Liberation Sans', Arial, sans-serif;font-size:9.4px;font-weight:bold;font-style:normal" stroke="#000" stroke-width="0.28">4</text>
<rect x="481.10" y="231.30" width="49.40" height="15.30" fill="#2a9a98" stroke="#1f6f6d" stroke-width="0.8"/>
<text x="505.80" y="242.80" text-anchor="middle" fill="#101010" style="font-family:'Liberation Serif', 'Times New Roman', serif;font-size:10.7px;font-weight:bold;font-style:italic" stroke="#101010" stroke-width="0.28">CitKCS2</text>
<line x1="311.60" y1="391.63" x2="387.50" y2="391.63" stroke="#555" stroke-width="1" stroke-dasharray="4,3"/>
<rect x="316.50" y="414.50" width="16.00" height="22.50" fill="#179a99" stroke="#2a1a14" stroke-width="1"/>
<rect x="342.50" y="317.50" width="15.00" height="119.50" fill="#e5533a" stroke="#2a1a14" stroke-width="1"/>
<rect x="367.50" y="376.50" width="15.00" height="60.50" fill="#e5533a" stroke="#2a1a14" stroke-width="1"/>
<line x1="324.50" y1="407.50" x2="324.50" y2="420.50" stroke="#151515" stroke-width="1.15"/>
<line x1="321.50" y1="407.50" x2="327.50" y2="407.50" stroke="#151515" stroke-width="1.15"/>
<line x1="321.50" y1="420.50" x2="327.50" y2="420.50" stroke="#151515" stroke-width="1.15"/>
<line x1="349.50" y1="291.50" x2="349.50" y2="344.50" stroke="#151515" stroke-width="1.15"/>
<line x1="346.50" y1="291.50" x2="352.50" y2="291.50" stroke="#151515" stroke-width="1.15"/>
<line x1="346.50" y1="344.50" x2="352.50" y2="344.50" stroke="#151515" stroke-width="1.15"/>
<line x1="374.50" y1="374.50" x2="374.50" y2="378.50" stroke="#151515" stroke-width="1.15"/>
<line x1="371.50" y1="374.50" x2="377.50" y2="374.50" stroke="#151515" stroke-width="1.15"/>
<line x1="371.50" y1="378.50" x2="377.50" y2="378.50" stroke="#151515" stroke-width="1.15"/>
<path d="M350.0,289.36 L350.0,287.27 L374.3,287.27 L374.3,372.80" stroke="#222" stroke-width="1.1" fill="none"/>
<text x="361.90" y="289.94" text-anchor="middle" fill="#111" style="font-family:'Liberation Serif', 'Times New Roman', serif;font-size:14px;font-weight:bold;font-style:normal" stroke="#111" stroke-width="0.28">*</text>
<line x1="311.60" y1="278.20" x2="387.50" y2="278.20" stroke="#111" stroke-width="1.1"/>
<line x1="387.50" y1="278.20" x2="387.50" y2="437.00" stroke="#111" stroke-width="1.1"/>
<line x1="311.60" y1="278.20" x2="311.60" y2="437.00" stroke="#111" stroke-width="1.1"/>
<line x1="311.60" y1="437.00" x2="387.50" y2="437.00" stroke="#111" stroke-width="1.1"/>
<line x1="308.60" y1="437.00" x2="311.60" y2="437.00" stroke="#111" stroke-width="1"/>
<text x="307.10" y="440.20" text-anchor="end" fill="#000" style="font-family:'Liberation Serif', 'Times New Roman', serif;font-size:9.0px;font-weight:bold;font-style:normal" stroke="#000" stroke-width="0.28">0</text>
<line x1="308.60" y1="414.31" x2="311.60" y2="414.31" stroke="#111" stroke-width="1"/>
<text x="307.10" y="417.51" text-anchor="end" fill="#000" style="font-family:'Liberation Serif', 'Times New Roman', serif;font-size:9.0px;font-weight:bold;font-style:normal" stroke="#000" stroke-width="0.28">1</text>
<line x1="308.60" y1="391.63" x2="311.60" y2="391.63" stroke="#111" stroke-width="1"/>
<text x="307.10" y="394.83" text-anchor="end" fill="#000" style="font-family:'Liberation Serif', 'Times New Roman', serif;font-size:9.0px;font-weight:bold;font-style:normal" stroke="#000" stroke-width="0.28">2</text>
<line x1="308.60" y1="368.94" x2="311.60" y2="368.94" stroke="#111" stroke-width="1"/>
<text x="307.10" y="372.14" text-anchor="end" fill="#000" style="font-family:'Liberation Serif', 'Times New Roman', serif;font-size:9.0px;font-weight:bold;font-style:normal" stroke="#000" stroke-width="0.28">3</text>
<line x1="308.60" y1="346.26" x2="311.60" y2="346.26" stroke="#111" stroke-width="1"/>
<text x="307.10" y="349.46" text-anchor="end" fill="#000" style="font-family:'Liberation Serif', 'Times New Roman', serif;font-size:9.0px;font-weight:bold;font-style:normal" stroke="#000" stroke-width="0.28">4</text>
<line x1="308.60" y1="323.57" x2="311.60" y2="323.57" stroke="#111" stroke-width="1"/>
<text x="307.10" y="326.77" text-anchor="end" fill="#000" style="font-family:'Liberation Serif', 'Times New Roman', serif;font-size:9.0px;font-weight:bold;font-style:normal" stroke="#000" stroke-width="0.28">5</text>
<line x1="308.60" y1="300.89" x2="311.60" y2="300.89" stroke="#111" stroke-width="1"/>
<text x="307.10" y="304.09" text-anchor="end" fill="#000" style="font-family:'Liberation Serif', 'Times New Roman', serif;font-size:9.0px;font-weight:bold;font-style:normal" stroke="#000" stroke-width="0.28">6</text>
<line x1="308.60" y1="278.20" x2="311.60" y2="278.20" stroke="#111" stroke-width="1"/>
<text x="307.10" y="281.40" text-anchor="end" fill="#000" style="font-family:'Liberation Serif', 'Times New Roman', serif;font-size:9.0px;font-weight:bold;font-style:normal" stroke="#000" stroke-width="0.28">7</text>
<line x1="309.80" y1="425.66" x2="311.60" y2="425.66" stroke="#111" stroke-width="0.8"/>
<line x1="309.80" y1="402.97" x2="311.60" y2="402.97" stroke="#111" stroke-width="0.8"/>
<line x1="309.80" y1="380.29" x2="311.60" y2="380.29" stroke="#111" stroke-width="0.8"/>
<line x1="309.80" y1="357.60" x2="311.60" y2="357.60" stroke="#111" stroke-width="0.8"/>
<line x1="309.80" y1="334.91" x2="311.60" y2="334.91" stroke="#111" stroke-width="0.8"/>
<line x1="309.80" y1="312.23" x2="311.60" y2="312.23" stroke="#111" stroke-width="0.8"/>
<line x1="309.80" y1="289.54" x2="311.60" y2="289.54" stroke="#111" stroke-width="0.8"/>
<line x1="324.50" y1="437.00" x2="324.50" y2="440.00" stroke="#111" stroke-width="1"/>
<line x1="349.60" y1="437.00" x2="349.60" y2="440.00" stroke="#111" stroke-width="1"/>
<line x1="374.90" y1="437.00" x2="374.90" y2="440.00" stroke="#111" stroke-width="1"/>
<text x="298.60" y="357.60" text-anchor="middle" fill="#000" style="font-family:'Liberation Serif', 'Times New Roman', serif;font-size:9.5px;font-weight:bold;font-style:normal" stroke="#000" stroke-width="0.28" transform="rotate(-90 298.60 357.60)">Relative LUC/REN ratio</text>
<rect x="311.60" y="267.00" width="11.20" height="8.50" fill="#179a99" stroke="#222" stroke-width="0.9"/>
<text x="324.40" y="274.60" text-anchor="start" fill="#000" style="font-family:'Liberation Serif', 'Times New Roman', serif;font-size:8.6px;font-weight:bold;font-style:normal" stroke="#000" stroke-width="0.28">EV</text>
<rect x="337.70" y="267.00" width="11.20" height="8.50" fill="#e5533a" stroke="#222" stroke-width="0.9"/>
<text x="350.30" y="274.60" text-anchor="start" fill="#000" style="font-family:'Liberation Serif', 'Times New Roman', serif;font-size:8.6px;font-weight:bold;font-style:normal" stroke="#000" stroke-width="0.28">CitMYB16</text>
<line x1="405.00" y1="391.63" x2="555.50" y2="391.63" stroke="#555" stroke-width="1" stroke-dasharray="4,3"/>
<rect x="409.50" y="414.50" width="13.00" height="22.50" fill="#179a99" stroke="#2a1a14" stroke-width="1"/>
<line x1="415.50" y1="407.50" x2="415.50" y2="420.50" stroke="#151515" stroke-width="1.15"/>
<line x1="412.50" y1="407.50" x2="418.50" y2="407.50" stroke="#151515" stroke-width="1.15"/>
<line x1="412.50" y1="420.50" x2="418.50" y2="420.50" stroke="#151515" stroke-width="1.15"/>
<rect x="430.50" y="348.50" width="13.00" height="88.50" fill="#e5533a" stroke="#2a1a14" stroke-width="1"/>
<line x1="437.50" y1="325.50" x2="437.50" y2="370.50" stroke="#151515" stroke-width="1.15"/>
<line x1="434.50" y1="325.50" x2="440.50" y2="325.50" stroke="#151515" stroke-width="1.15"/>
<line x1="434.50" y1="370.50" x2="440.50" y2="370.50" stroke="#151515" stroke-width="1.15"/>
<rect x="452.50" y="354.50" width="13.00" height="82.50" fill="#e5533a" stroke="#2a1a14" stroke-width="1"/>
<line x1="458.50" y1="326.50" x2="458.50" y2="382.50" stroke="#151515" stroke-width="1.15"/>
<line x1="455.50" y1="326.50" x2="461.50" y2="326.50" stroke="#151515" stroke-width="1.15"/>
<line x1="455.50" y1="382.50" x2="461.50" y2="382.50" stroke="#151515" stroke-width="1.15"/>
<rect x="473.50" y="353.50" width="14.00" height="83.50" fill="#e5533a" stroke="#2a1a14" stroke-width="1"/>
<line x1="480.50" y1="319.50" x2="480.50" y2="388.50" stroke="#151515" stroke-width="1.15"/>
<line x1="477.50" y1="319.50" x2="483.50" y2="319.50" stroke="#151515" stroke-width="1.15"/>
<line x1="477.50" y1="388.50" x2="483.50" y2="388.50" stroke="#151515" stroke-width="1.15"/>
<rect x="495.50" y="329.50" width="13.00" height="107.50" fill="#e5533a" stroke="#2a1a14" stroke-width="1"/>
<line x1="502.50" y1="307.50" x2="502.50" y2="349.50" stroke="#151515" stroke-width="1.15"/>
<line x1="499.50" y1="307.50" x2="505.50" y2="307.50" stroke="#151515" stroke-width="1.15"/>
<line x1="499.50" y1="349.50" x2="505.50" y2="349.50" stroke="#151515" stroke-width="1.15"/>
<rect x="517.50" y="390.50" width="13.00" height="46.50" fill="#e5533a" stroke="#2a1a14" stroke-width="1"/>
<line x1="523.50" y1="373.50" x2="523.50" y2="407.50" stroke="#151515" stroke-width="1.15"/>
<line x1="520.50" y1="373.50" x2="526.50" y2="373.50" stroke="#151515" stroke-width="1.15"/>
<line x1="520.50" y1="407.50" x2="526.50" y2="407.50" stroke="#151515" stroke-width="1.15"/>
<rect x="538.50" y="343.50" width="13.00" height="93.50" fill="#e5533a" stroke="#2a1a14" stroke-width="1"/>
<line x1="545.50" y1="331.50" x2="545.50" y2="355.50" stroke="#151515" stroke-width="1.15"/>
<line x1="542.50" y1="331.50" x2="548.50" y2="331.50" stroke="#151515" stroke-width="1.15"/>
<line x1="542.50" y1="355.50" x2="548.50" y2="355.50" stroke="#151515" stroke-width="1.15"/>
<line x1="405.00" y1="278.20" x2="555.50" y2="278.20" stroke="#111" stroke-width="1.1"/>
<line x1="555.50" y1="278.20" x2="555.50" y2="437.00" stroke="#111" stroke-width="1.1"/>
<line x1="405.00" y1="278.20" x2="405.00" y2="437.00" stroke="#111" stroke-width="1.1"/>
<line x1="405.00" y1="437.00" x2="555.50" y2="437.00" stroke="#111" stroke-width="1.1"/>
<line x1="555.50" y1="437.00" x2="558.50" y2="437.00" stroke="#111" stroke-width="1"/>
<text x="560.00" y="440.20" text-anchor="start" fill="#000" style="font-family:'Liberation Serif', 'Times New Roman', serif;font-size:9.0px;font-weight:bold;font-style:normal" stroke="#000" stroke-width="0.28">0</text>
<line x1="555.50" y1="414.31" x2="558.50" y2="414.31" stroke="#111" stroke-width="1"/>
<text x="560.00" y="417.51" text-anchor="start" fill="#000" style="font-family:'Liberation Serif', 'Times New Roman', serif;font-size:9.0px;font-weight:bold;font-style:normal" stroke="#000" stroke-width="0.28">1</text>
<line x1="555.50" y1="391.63" x2="558.50" y2="391.63" stroke="#111" stroke-width="1"/>
<text x="560.00" y="394.83" text-anchor="start" fill="#000" style="font-family:'Liberation Serif', 'Times New Roman', serif;font-size:9.0px;font-weight:bold;font-style:normal" stroke="#000" stroke-width="0.28">2</text>
<line x1="555.50" y1="368.94" x2="558.50" y2="368.94" stroke="#111" stroke-width="1"/>
<text x="560.00" y="372.14" text-anchor="start" fill="#000" style="font-family:'Liberation Serif', 'Times New Roman', serif;font-size:9.0px;font-weight:bold;font-style:normal" stroke="#000" stroke-width="0.28">3</text>
<line x1="555.50" y1="346.26" x2="558.50" y2="346.26" stroke="#111" stroke-width="1"/>
<text x="560.00" y="349.46" text-anchor="start" fill="#000" style="font-family:'Liberation Serif', 'Times New Roman', serif;font-size:9.0px;font-weight:bold;font-style:normal" stroke="#000" stroke-width="0.28">4</text>
<line x1="555.50" y1="323.57" x2="558.50" y2="323.57" stroke="#111" stroke-width="1"/>
<text x="560.00" y="326.77" text-anchor="start" fill="#000" style="font-family:'Liberation Serif', 'Times New Roman', serif;font-size:9.0px;font-weight:bold;font-style:normal" stroke="#000" stroke-width="0.28">5</text>
<line x1="555.50" y1="300.89" x2="558.50" y2="300.89" stroke="#111" stroke-width="1"/>
<text x="560.00" y="304.09" text-anchor="start" fill="#000" style="font-family:'Liberation Serif', 'Times New Roman', serif;font-size:9.0px;font-weight:bold;font-style:normal" stroke="#000" stroke-width="0.28">6</text>
<line x1="555.50" y1="278.20" x2="558.50" y2="278.20" stroke="#111" stroke-width="1"/>
<text x="560.00" y="281.40" text-anchor="start" fill="#000" style="font-family:'Liberation Serif', 'Times New Roman', serif;font-size:9.0px;font-weight:bold;font-style:normal" stroke="#000" stroke-width="0.28">7</text>
<line x1="555.50" y1="425.66" x2="557.30" y2="425.66" stroke="#111" stroke-width="0.8"/>
<line x1="555.50" y1="402.97" x2="557.30" y2="402.97" stroke="#111" stroke-width="0.8"/>
<line x1="555.50" y1="380.29" x2="557.30" y2="380.29" stroke="#111" stroke-width="0.8"/>
<line x1="555.50" y1="357.60" x2="557.30" y2="357.60" stroke="#111" stroke-width="0.8"/>
<line x1="555.50" y1="334.91" x2="557.30" y2="334.91" stroke="#111" stroke-width="0.8"/>
<line x1="555.50" y1="312.23" x2="557.30" y2="312.23" stroke="#111" stroke-width="0.8"/>
<line x1="555.50" y1="289.54" x2="557.30" y2="289.54" stroke="#111" stroke-width="0.8"/>
<line x1="415.80" y1="437.00" x2="415.80" y2="440.00" stroke="#111" stroke-width="1"/>
<line x1="437.30" y1="437.00" x2="437.30" y2="440.00" stroke="#111" stroke-width="1"/>
<line x1="458.70" y1="437.00" x2="458.70" y2="440.00" stroke="#111" stroke-width="1"/>
<line x1="480.50" y1="437.00" x2="480.50" y2="440.00" stroke="#111" stroke-width="1"/>
<line x1="502.00" y1="437.00" x2="502.00" y2="440.00" stroke="#111" stroke-width="1"/>
<line x1="523.90" y1="437.00" x2="523.90" y2="440.00" stroke="#111" stroke-width="1"/>
<line x1="545.20" y1="437.00" x2="545.20" y2="440.00" stroke="#111" stroke-width="1"/>
<path d="M437.3,295.0 L437.3,291.9 L524.0,291.9 L524.0,366.0" stroke="#222" stroke-width="1.1" fill="none"/>
<path d="M437.3,300.5 L437.3,297.7 L545.2,297.7 L545.2,303.0" stroke="#222" stroke-width="1.1" fill="none"/>
<path d="M437.3,309.5 L437.3,307.0 L502.0,307.0 L502.0,308.5" stroke="#222" stroke-width="1.1" fill="none"/>
<text x="484.30" y="293.74" text-anchor="middle" fill="#111" style="font-family:'Liberation Serif', 'Times New Roman', serif;font-size:14px;font-weight:bold;font-style:normal" stroke="#111" stroke-width="0.28">*</text>
<text x="538.60" y="296.80" text-anchor="middle" fill="#000" style="font-family:'Liberation Serif', 'Times New Roman', serif;font-size:8.8px;font-weight:bold;font-style:normal" stroke="#000" stroke-width="0.28">ns</text>
<text x="469.30" y="305.00" text-anchor="middle" fill="#000" style="font-family:'Liberation Serif', 'Times New Roman', serif;font-size:8.8px;font-weight:bold;font-style:normal" stroke="#000" stroke-width="0.28">ns</text>
<text x="333.50" y="445.50" text-anchor="end" fill="#000" style="font-family:'Liberation Serif', 'Times New Roman', serif;font-size:9.8px;font-weight:bold;font-style:italic" stroke="#000" stroke-width="0.28" transform="translate(333.50 445.50) skewY(-24) scale(1.0 1) translate(-333.50 -445.50)">ProCitKCS2</text>
<text x="358.50" y="445.50" text-anchor="end" fill="#000" style="font-family:'Liberation Serif', 'Times New Roman', serif;font-size:9.8px;font-weight:bold;font-style:italic" stroke="#000" stroke-width="0.28" transform="translate(358.50 445.50) skewY(-24) scale(1.0 1) translate(-358.50 -445.50)">ProCitKCS2</text>
<text x="423.50" y="445.50" text-anchor="end" fill="#000" style="font-family:'Liberation Serif', 'Times New Roman', serif;font-size:9.8px;font-weight:bold;font-style:italic" stroke="#000" stroke-width="0.28" transform="translate(423.50 445.50) skewY(-24) scale(1.0 1) translate(-423.50 -445.50)">ProCitKCS2</text>
<text x="445.00" y="445.50" text-anchor="end" fill="#000" style="font-family:'Liberation Serif', 'Times New Roman', serif;font-size:9.8px;font-weight:bold;font-style:italic" stroke="#000" stroke-width="0.28" transform="translate(445.00 445.50) skewY(-24) scale(1.0 1) translate(-445.00 -445.50)">ProCitKCS2</text>
<text x="379.50" y="446.00" text-anchor="end" fill="#000" style="font-family:'Liberation Serif', 'Times New Roman', serif;font-size:9.8px;font-weight:bold;font-style:normal" stroke="#000" stroke-width="0.28" transform="translate(379.50 446.00) skewY(-24) scale(1.0 1) translate(-379.50 -446.00)">m1</text>
<text x="463.20" y="446.50" text-anchor="end" fill="#000" style="font-family:'Liberation Serif', 'Times New Roman', serif;font-size:9.8px;font-weight:bold;font-style:normal" stroke="#000" stroke-width="0.28" transform="translate(463.20 446.50) skewY(-24) scale(1.0 1) translate(-463.20 -446.50)">m2</text>
<text x="485.00" y="446.50" text-anchor="end" fill="#000" style="font-family:'Liberation Serif', 'Times New Roman', serif;font-size:9.8px;font-weight:bold;font-style:normal" stroke="#000" stroke-width="0.28" transform="translate(485.00 446.50) skewY(-24) scale(1.0 1) translate(-485.00 -446.50)">m3</text>
<text x="506.50" y="446.50" text-anchor="end" fill="#000" style="font-family:'Liberation Serif', 'Times New Roman', serif;font-size:9.8px;font-weight:bold;font-style:normal" stroke="#000" stroke-width="0.28" transform="translate(506.50 446.50) skewY(-24) scale(1.0 1) translate(-506.50 -446.50)">m4</text>
<text x="528.40" y="446.50" text-anchor="end" fill="#000" style="font-family:'Liberation Serif', 'Times New Roman', serif;font-size:9.8px;font-weight:bold;font-style:normal" stroke="#000" stroke-width="0.28" transform="translate(528.40 446.50) skewY(-24) scale(1.0 1) translate(-528.40 -446.50)">m5</text>
<text x="549.70" y="446.50" text-anchor="end" fill="#000" style="font-family:'Liberation Serif', 'Times New Roman', serif;font-size:9.8px;font-weight:bold;font-style:normal" stroke="#000" stroke-width="0.28" transform="translate(549.70 446.50) skewY(-24) scale(1.0 1) translate(-549.70 -446.50)">m6</text>
<text x="557.30" y="234.65" text-anchor="start" fill="#000" style="font-family:'Liberation Sans', Arial, sans-serif;font-size:22px;font-weight:bold;font-style:normal">(h)</text>
<rect x="610.50" y="411.50" width="17.00" height="26.60" fill="#7aafc7" stroke="#2a1a14" stroke-width="1"/>
<rect x="627.50" y="384.50" width="18.00" height="53.60" fill="#f5a2a4" stroke="#2a1a14" stroke-width="1"/>
<rect x="668.50" y="410.50" width="17.00" height="27.60" fill="#7aafc7" stroke="#2a1a14" stroke-width="1"/>
<rect x="685.50" y="310.50" width="17.00" height="127.60" fill="#f5a2a4" stroke="#2a1a14" stroke-width="1"/>
<line x1="618.50" y1="408.50" x2="618.50" y2="412.50" stroke="#151515" stroke-width="1.15"/>
<line x1="615.50" y1="408.50" x2="621.50" y2="408.50" stroke="#151515" stroke-width="1.15"/>
<line x1="615.50" y1="412.50" x2="621.50" y2="412.50" stroke="#151515" stroke-width="1.15"/>
<line x1="636.50" y1="378.50" x2="636.50" y2="390.50" stroke="#151515" stroke-width="1.15"/>
<line x1="633.50" y1="378.50" x2="639.50" y2="378.50" stroke="#151515" stroke-width="1.15"/>
<line x1="633.50" y1="390.50" x2="639.50" y2="390.50" stroke="#151515" stroke-width="1.15"/>
<line x1="676.50" y1="405.50" x2="676.50" y2="415.50" stroke="#151515" stroke-width="1.15"/>
<line x1="673.50" y1="405.50" x2="679.50" y2="405.50" stroke="#151515" stroke-width="1.15"/>
<line x1="673.50" y1="415.50" x2="679.50" y2="415.50" stroke="#151515" stroke-width="1.15"/>
<line x1="694.50" y1="292.50" x2="694.50" y2="328.50" stroke="#151515" stroke-width="1.15"/>
<line x1="691.50" y1="292.50" x2="697.50" y2="292.50" stroke="#151515" stroke-width="1.15"/>
<line x1="691.50" y1="328.50" x2="697.50" y2="328.50" stroke="#151515" stroke-width="1.15"/>
<line x1="598.70" y1="276.10" x2="714.20" y2="276.10" stroke="#111" stroke-width="1.1"/>
<line x1="714.20" y1="276.10" x2="714.20" y2="438.10" stroke="#111" stroke-width="1.1"/>
<line x1="598.70" y1="276.10" x2="598.70" y2="438.10" stroke="#111" stroke-width="1.1"/>
<line x1="598.70" y1="438.10" x2="714.20" y2="438.10" stroke="#111" stroke-width="1.1"/>
<line x1="595.70" y1="438.10" x2="598.70" y2="438.10" stroke="#111" stroke-width="1"/>
<text x="594.20" y="441.40" text-anchor="end" fill="#000" style="font-family:'Liberation Serif', 'Times New Roman', serif;font-size:9.6px;font-weight:bold;font-style:normal" stroke="#000" stroke-width="0.28">0</text>
<line x1="595.70" y1="411.10" x2="598.70" y2="411.10" stroke="#111" stroke-width="1"/>
<text x="594.20" y="414.40" text-anchor="end" fill="#000" style="font-family:'Liberation Serif', 'Times New Roman', serif;font-size:9.6px;font-weight:bold;font-style:normal" stroke="#000" stroke-width="0.28">1</text>
<line x1="595.70" y1="384.10" x2="598.70" y2="384.10" stroke="#111" stroke-width="1"/>
<text x="594.20" y="387.40" text-anchor="end" fill="#000" style="font-family:'Liberation Serif', 'Times New Roman', serif;font-size:9.6px;font-weight:bold;font-style:normal" stroke="#000" stroke-width="0.28">2</text>
<line x1="595.70" y1="357.10" x2="598.70" y2="357.10" stroke="#111" stroke-width="1"/>
<text x="594.20" y="360.40" text-anchor="end" fill="#000" style="font-family:'Liberation Serif', 'Times New Roman', serif;font-size:9.6px;font-weight:bold;font-style:normal" stroke="#000" stroke-width="0.28">3</text>
<line x1="595.70" y1="330.10" x2="598.70" y2="330.10" stroke="#111" stroke-width="1"/>
<text x="594.20" y="333.40" text-anchor="end" fill="#000" style="font-family:'Liberation Serif', 'Times New Roman', serif;font-size:9.6px;font-weight:bold;font-style:normal" stroke="#000" stroke-width="0.28">4</text>
<line x1="595.70" y1="303.10" x2="598.70" y2="303.10" stroke="#111" stroke-width="1"/>
<text x="594.20" y="306.40" text-anchor="end" fill="#000" style="font-family:'Liberation Serif', 'Times New Roman', serif;font-size:9.6px;font-weight:bold;font-style:normal" stroke="#000" stroke-width="0.28">5</text>
<line x1="595.70" y1="276.10" x2="598.70" y2="276.10" stroke="#111" stroke-width="1"/>
<text x="594.20" y="279.40" text-anchor="end" fill="#000" style="font-family:'Liberation Serif', 'Times New Roman', serif;font-size:9.6px;font-weight:bold;font-style:normal" stroke="#000" stroke-width="0.28">6</text>
<line x1="596.90" y1="424.60" x2="598.70" y2="424.60" stroke="#111" stroke-width="0.8"/>
<line x1="596.90" y1="397.60" x2="598.70" y2="397.60" stroke="#111" stroke-width="0.8"/>
<line x1="596.90" y1="370.60" x2="598.70" y2="370.60" stroke="#111" stroke-width="0.8"/>
<line x1="596.90" y1="343.60" x2="598.70" y2="343.60" stroke="#111" stroke-width="0.8"/>
<line x1="596.90" y1="316.60" x2="598.70" y2="316.60" stroke="#111" stroke-width="0.8"/>
<line x1="596.90" y1="289.60" x2="598.70" y2="289.60" stroke="#111" stroke-width="0.8"/>
<line x1="627.00" y1="438.10" x2="627.00" y2="441.10" stroke="#111" stroke-width="1"/>
<line x1="685.60" y1="438.10" x2="685.60" y2="441.10" stroke="#111" stroke-width="1"/>
<text x="627.70" y="448.70" text-anchor="middle" fill="#000" style="font-family:'Liberation Serif', 'Times New Roman', serif;font-size:9.4px;font-weight:bold;font-style:normal" stroke="#000" stroke-width="0.28">F1(site1)</text>
<text x="686.00" y="448.70" text-anchor="middle" fill="#000" style="font-family:'Liberation Serif', 'Times New Roman', serif;font-size:9.4px;font-weight:bold;font-style:normal" stroke="#000" stroke-width="0.28">F5(site5)</text>
<text x="588.60" y="357.00" text-anchor="middle" fill="#000" style="font-family:'Liberation Serif', 'Times New Roman', serif;font-size:9.7px;font-weight:bold;font-style:normal" stroke="#000" stroke-width="0.28" transform="rotate(-90 588.60 357.00)">Fold enrichment</text>
<text x="656.30" y="273.30" text-anchor="middle" fill="#000" style="font-family:'Liberation Serif', 'Times New Roman', serif;font-size:9.65px;font-weight:bold;font-style:italic" stroke="#000" stroke-width="0.28">ProCitKCS2</text>
<rect x="599.50" y="277.50" width="10.80" height="7.50" fill="#7aafc7" stroke="#222" stroke-width="1"/>
<text x="611.80" y="284.80" text-anchor="start" fill="#000" style="font-family:'Liberation Serif', 'Times New Roman', serif;font-size:8.85px;font-weight:bold;font-style:normal" stroke="#000" stroke-width="0.28">IgG</text>
<rect x="599.50" y="288.80" width="10.80" height="7.80" fill="#f5a2a4" stroke="#222" stroke-width="1"/>
<text x="611.80" y="296.20" text-anchor="start" fill="#000" style="font-family:'Liberation Serif', 'Times New Roman', serif;font-size:8.85px;font-weight:bold;font-style:normal" stroke="#000" stroke-width="0.28">CitMYB16-Flag</text>
<text x="638.00" y="379.51" text-anchor="middle" fill="#111" style="font-family:'Liberation Serif', 'Times New Roman', serif;font-size:13.5px;font-weight:bold;font-style:normal" stroke="#111" stroke-width="0.28" letter-spacing="1.4">**</text>
<text x="695.20" y="294.31" text-anchor="middle" fill="#111" style="font-family:'Liberation Serif', 'Times New Roman', serif;font-size:13.5px;font-weight:bold;font-style:normal" stroke="#111" stroke-width="0.28" letter-spacing="1.4">**</text>
<text x="5.40" y="495.00" text-anchor="start" fill="#000" style="font-family:'Liberation Sans', Arial, sans-serif;font-size:22px;font-weight:bold;font-style:normal">(e)</text>
<line x1="69.00" y1="501.30" x2="220.40" y2="501.30" stroke="#000" stroke-width="1.5"/>
<path d="M220.40,501.30 L220.40,484.90 L243.40,484.90" stroke="#000" stroke-width="1.4" fill="none"/>
<path d="M239.80,481.84 L243.40,484.90 L239.80,487.96" stroke="#000" stroke-width="1.4" fill="none"/>
<line x1="194.20" y1="498.20" x2="194.20" y2="508.50" stroke="#000" stroke-width="1.2"/>
<line x1="203.00" y1="498.20" x2="203.00" y2="508.50" stroke="#000" stroke-width="1.2"/>
<line x1="194.20" y1="508.50" x2="68.00" y2="517.00" stroke="#000" stroke-width="1.2"/>
<line x1="203.00" y1="508.50" x2="223.70" y2="513.60" stroke="#000" stroke-width="1.2"/>
<circle cx="198.60" cy="501.30" r="3.40" fill="#e0141c" stroke="none" stroke-width="1"/>
<text x="198.80" y="489.20" text-anchor="middle" fill="#000" style="font-family:'Liberation Sans', Arial, sans-serif;font-size:10.0px;font-weight:bold;font-style:normal" stroke="#000" stroke-width="0.28">site 1</text>
<rect x="222.70" y="494.10" width="47.70" height="15.40" fill="#2a9a98" stroke="#1f6f6d" stroke-width="0.8"/>
<text x="246.55" y="505.58" text-anchor="middle" fill="#101010" style="font-family:'Liberation Sans', Arial, sans-serif;font-size:10.5px;font-weight:bold;font-style:italic" stroke="#101010" stroke-width="0.28">CitDCR</text>
<text x="74.90" y="525.20" text-anchor="end" fill="#000" style="font-family:'Liberation Sans', Arial, sans-serif;font-size:9.4px;font-weight:bold;font-style:normal" stroke="#000" stroke-width="0.28">FAM-Probe:</text>
<text x="74.90" y="539.60" text-anchor="end" fill="#000" style="font-family:'Liberation Sans', Arial, sans-serif;font-size:9.4px;font-weight:bold;font-style:normal" stroke="#000" stroke-width="0.28">Mut-Probe:</text>
<text x="78.40" y="525.20" style="font-family:'Liberation Sans', Arial, sans-serif;font-size:7.2px;font-weight:bold" stroke-width="0.196"><tspan fill="#000" stroke="#000">CAACTTGATTTCTA</tspan><tspan fill="#e8202a" stroke="#e8202a">CCCTAACTAATT</tspan><tspan fill="#000" stroke="#000">AACACAAAGTGAC</tspan></text>
<text x="78.40" y="539.60" style="font-family:'Liberation Sans', Arial, sans-serif;font-size:7.2px;font-weight:bold" stroke-width="0.196"><tspan fill="#000" stroke="#000">CAACTTGATTTCTA</tspan><tspan fill="#e8202a" stroke="#e8202a">AAAAAAAAAAAA</tspan><tspan fill="#000" stroke="#000">AACACAAAGTGAC</tspan></text>
<text x="74.90" y="555.40" text-anchor="end" fill="#000" style="font-family:'Liberation Sans', Arial, sans-serif;font-size:9.4px;font-weight:bold;font-style:normal" stroke="#000" stroke-width="0.28">His-CitMYB16</text>
<text x="116.10" y="555.40" text-anchor="middle" fill="#000" style="font-family:'Liberation Sans', Arial, sans-serif;font-size:10.0px;font-weight:bold;font-style:normal" stroke="#000" stroke-width="0.28">-</text>
<text x="143.80" y="555.40" text-anchor="middle" fill="#000" style="font-family:'Liberation Sans', Arial, sans-serif;font-size:10.0px;font-weight:bold;font-style:normal" stroke="#000" stroke-width="0.28">+</text>
<text x="174.30" y="555.40" text-anchor="middle" fill="#000" style="font-family:'Liberation Sans', Arial, sans-serif;font-size:10.0px;font-weight:bold;font-style:normal" stroke="#000" stroke-width="0.28">+</text>
<text x="201.60" y="555.40" text-anchor="middle" fill="#000" style="font-family:'Liberation Sans', Arial, sans-serif;font-size:10.0px;font-weight:bold;font-style:normal" stroke="#000" stroke-width="0.28">+</text>
<text x="232.50" y="555.40" text-anchor="middle" fill="#000" style="font-family:'Liberation Sans', Arial, sans-serif;font-size:10.0px;font-weight:bold;font-style:normal" stroke="#000" stroke-width="0.28">+</text>
<text x="74.90" y="568.60" text-anchor="end" fill="#000" style="font-family:'Liberation Sans', Arial, sans-serif;font-size:9.4px;font-weight:bold;font-style:normal" stroke="#000" stroke-width="0.28">FAM-Probe</text>
<text x="116.10" y="568.60" text-anchor="middle" fill="#000" style="font-family:'Liberation Sans', Arial, sans-serif;font-size:10.0px;font-weight:bold;font-style:normal" stroke="#000" stroke-width="0.28">+</text>
<text x="143.80" y="568.60" text-anchor="middle" fill="#000" style="font-family:'Liberation Sans', Arial, sans-serif;font-size:10.0px;font-weight:bold;font-style:normal" stroke="#000" stroke-width="0.28">+</text>
<text x="174.30" y="568.60" text-anchor="middle" fill="#000" style="font-family:'Liberation Sans', Arial, sans-serif;font-size:10.0px;font-weight:bold;font-style:normal" stroke="#000" stroke-width="0.28">+</text>
<text x="201.60" y="568.60" text-anchor="middle" fill="#000" style="font-family:'Liberation Sans', Arial, sans-serif;font-size:10.0px;font-weight:bold;font-style:normal" stroke="#000" stroke-width="0.28">+</text>
<text x="232.50" y="568.60" text-anchor="middle" fill="#000" style="font-family:'Liberation Sans', Arial, sans-serif;font-size:10.0px;font-weight:bold;font-style:normal" stroke="#000" stroke-width="0.28">+</text>
<text x="74.90" y="581.80" text-anchor="end" fill="#000" style="font-family:'Liberation Sans', Arial, sans-serif;font-size:9.4px;font-weight:bold;font-style:normal" stroke="#000" stroke-width="0.28">Competitor</text>
<text x="116.10" y="581.80" text-anchor="middle" fill="#000" style="font-family:'Liberation Sans', Arial, sans-serif;font-size:10.0px;font-weight:bold;font-style:normal" stroke="#000" stroke-width="0.28">-</text>
<text x="143.80" y="581.80" text-anchor="middle" fill="#000" style="font-family:'Liberation Sans', Arial, sans-serif;font-size:10.0px;font-weight:bold;font-style:normal" stroke="#000" stroke-width="0.28">-</text>
<text x="174.30" y="581.80" text-anchor="middle" fill="#000" style="font-family:'Liberation Sans', Arial, sans-serif;font-size:10.0px;font-weight:bold;font-style:normal" stroke="#000" stroke-width="0.28">10×</text>
<text x="201.60" y="581.80" text-anchor="middle" fill="#000" style="font-family:'Liberation Sans', Arial, sans-serif;font-size:10.0px;font-weight:bold;font-style:normal" stroke="#000" stroke-width="0.28">20×</text>
<text x="232.50" y="581.80" text-anchor="middle" fill="#000" style="font-family:'Liberation Sans', Arial, sans-serif;font-size:10.0px;font-weight:bold;font-style:normal" stroke="#000" stroke-width="0.28">-</text>
<text x="74.90" y="595.20" text-anchor="end" fill="#000" style="font-family:'Liberation Sans', Arial, sans-serif;font-size:9.4px;font-weight:bold;font-style:normal" stroke="#000" stroke-width="0.28">Mut-Probe</text>
<text x="116.10" y="595.20" text-anchor="middle" fill="#000" style="font-family:'Liberation Sans', Arial, sans-serif;font-size:10.0px;font-weight:bold;font-style:normal" stroke="#000" stroke-width="0.28">-</text>
<text x="143.80" y="595.20" text-anchor="middle" fill="#000" style="font-family:'Liberation Sans', Arial, sans-serif;font-size:10.0px;font-weight:bold;font-style:normal" stroke="#000" stroke-width="0.28">-</text>
<text x="174.30" y="595.20" text-anchor="middle" fill="#000" style="font-family:'Liberation Sans', Arial, sans-serif;font-size:10.0px;font-weight:bold;font-style:normal" stroke="#000" stroke-width="0.28">-</text>
<text x="201.60" y="595.20" text-anchor="middle" fill="#000" style="font-family:'Liberation Sans', Arial, sans-serif;font-size:10.0px;font-weight:bold;font-style:normal" stroke="#000" stroke-width="0.28">-</text>
<text x="232.50" y="595.20" text-anchor="middle" fill="#000" style="font-family:'Liberation Sans', Arial, sans-serif;font-size:10.0px;font-weight:bold;font-style:normal" stroke="#000" stroke-width="0.28">+</text>
<rect x="97.2" y="594.0" width="158.8" height="115.6" fill="#f3f3f3"/>
<rect x="97.2" y="594.0" width="158.8" height="6" fill="#f6f6f6" filter="url(#bl1)"/>
<rect x="185.5" y="600" width="7.5" height="45" fill="#f8f8f8" filter="url(#bl1)"/>
<rect x="215.5" y="600" width="8.0" height="45" fill="#f8f8f8" filter="url(#bl1)"/>
<path d="M133.30,600.50 Q135.22,600.50 136.50,604.60 Q137.78,605.10 139.70,605.10 L148.60,605.10 Q150.52,605.10 151.80,604.60 Q153.08,600.50 155.00,600.50 L155.00,611.30 Q155.00,612.30 154.00,612.30 L134.30,612.30 Q133.30,612.30 133.30,611.30 Z" fill="#050505" opacity="1.0" filter="url(#bl06)"/>
<rect x="163.90" y="609.80" width="20.30" height="24.00" fill="url(#smearG)" opacity="0.28" filter="url(#bl1)"/>
<rect x="164.20" y="610.30" width="19.70" height="8.00" fill="url(#bandG)" opacity="0.62" filter="url(#bl1)"/>
<rect x="163.40" y="609.50" width="1.6" height="10.00" fill="#000" opacity="0.3" filter="url(#bl06)"/>
<rect x="183.10" y="609.50" width="1.6" height="10.00" fill="#000" opacity="0.3" filter="url(#bl06)"/>
<rect x="194.20" y="609.00" width="20.30" height="24.00" fill="url(#smearG)" opacity="0.18" filter="url(#bl1)"/>
<rect x="194.50" y="609.50" width="19.70" height="8.50" fill="url(#bandG)" opacity="0.28" filter="url(#bl1)"/>
<rect x="193.70" y="608.70" width="1.6" height="10.50" fill="#000" opacity="0.12" filter="url(#bl06)"/>
<rect x="213.40" y="608.70" width="1.6" height="10.50" fill="#000" opacity="0.12" filter="url(#bl06)"/>
<path d="M224.60,605.00 Q226.52,605.00 227.80,608.00 Q229.08,608.50 231.00,608.50 L242.20,608.50 Q244.12,608.50 245.40,608.00 Q246.68,605.00 248.60,605.00 L248.60,615.50 Q248.60,616.50 247.60,616.50 L225.60,616.50 Q224.60,616.50 224.60,615.50 Z" fill="#050505" opacity="1.0" filter="url(#bl06)"/>
<rect x="102.70" y="684.20" width="19.30" height="14.00" fill="url(#glowW)" opacity="0.72" filter="url(#bl1)"/>
<rect x="101.70" y="698.20" width="21.30" height="6.80" rx="1.5" fill="#050505" opacity="1.0" filter="url(#bl06)"/>
<rect x="198.00" y="683.30" width="18.20" height="14.00" fill="url(#glowW)" opacity="0.48" filter="url(#bl1)"/>
<rect x="197.00" y="697.30" width="20.20" height="6.50" rx="1.5" fill="#050505" opacity="0.35" filter="url(#bl06)"/>
<rect x="164.00" y="698.00" width="20.00" height="5.00" rx="1.5" fill="#050505" opacity="0.06" filter="url(#bl06)"/>
<circle cx="138.70" cy="652.20" r="0.70" fill="#111" opacity="0.85"/>
<circle cx="216.00" cy="690.40" r="0.70" fill="#111" opacity="0.85"/>
<circle cx="245.20" cy="683.20" r="0.70" fill="#111" opacity="0.85"/>
<circle cx="239.20" cy="670.20" r="0.70" fill="#111" opacity="0.85"/>
<circle cx="99.00" cy="680.00" r="0.70" fill="#111" opacity="0.85"/>
<text x="76.40" y="611.30" text-anchor="end" fill="#000" style="font-family:'Liberation Sans', Arial, sans-serif;font-size:9.45px;font-weight:bold;font-style:normal" stroke="#000" stroke-width="0.28">Bound probe</text>
<path d="M78.80,607.30 L88.00,607.30 L88.00,605.60 L93.00,608.60 L88.00,611.60 L88.00,609.90 L78.80,609.90 Z" fill="#000"/>
<text x="75.20" y="703.70" text-anchor="end" fill="#000" style="font-family:'Liberation Sans', Arial, sans-serif;font-size:9.45px;font-weight:bold;font-style:normal" stroke="#000" stroke-width="0.28">Free probe</text>
<path d="M80.00,699.70 L88.50,699.70 L88.50,698.00 L93.50,701.00 L88.50,704.00 L88.50,702.30 L80.00,702.30 Z" fill="#000"/>
<text x="292.60" y="493.75" text-anchor="start" fill="#000" style="font-family:'Liberation Sans', Arial, sans-serif;font-size:22px;font-weight:bold;font-style:normal">(f)</text>
<line x1="306.70" y1="501.30" x2="424.70" y2="501.30" stroke="#000" stroke-width="1.5"/>
<path d="M424.70,501.30 L424.70,485.50 L447.50,485.50" stroke="#000" stroke-width="1.4" fill="none"/>
<path d="M443.90,482.44 L447.50,485.50 L443.90,488.56" stroke="#000" stroke-width="1.4" fill="none"/>
<circle cx="370.00" cy="501.30" r="3.50" fill="#e0141c" stroke="none" stroke-width="1"/>
<circle cx="388.60" cy="501.30" r="3.50" fill="#e0141c" stroke="none" stroke-width="1"/>
<line x1="363.60" y1="506.90" x2="376.50" y2="506.90" stroke="#2a9a98" stroke-width="1.6"/>
<line x1="384.20" y1="506.90" x2="397.10" y2="506.90" stroke="#2a9a98" stroke-width="1.6"/>
<text x="370.00" y="516.50" text-anchor="middle" fill="#000" style="font-family:'Liberation Sans', Arial, sans-serif;font-size:9.3px;font-weight:bold;font-style:normal" stroke="#000" stroke-width="0.28">M5</text>
<text x="390.00" y="516.50" text-anchor="middle" fill="#000" style="font-family:'Liberation Sans', Arial, sans-serif;font-size:9.3px;font-weight:bold;font-style:normal" stroke="#000" stroke-width="0.28">M1</text>
<rect x="425.50" y="493.20" width="52.90" height="16.00" fill="#2a9a98" stroke="#1f6f6d" stroke-width="0.8"/>
<text x="451.95" y="505.02" text-anchor="middle" fill="#101010" style="font-family:'Liberation Sans', Arial, sans-serif;font-size:10.6px;font-weight:bold;font-style:italic" stroke="#101010" stroke-width="0.28">CitKCS2</text>
<text x="484.2" y="483.90" style="font-family:'Liberation Sans', Arial, sans-serif;font-weight:bold" stroke-width="0.22400000000000003"><tspan font-size="7.73" fill="#000" stroke="#000">FAM-Probe-M1:</tspan><tspan font-size="7.21" fill="#000" stroke="#000" dx="2.6">GCAATTAAAAAAGTTC</tspan><tspan font-size="7.21" fill="#e8202a" stroke="#e8202a">GTTGGGGTAGTT</tspan><tspan font-size="7.21" fill="#000" stroke="#000">GTATC</tspan></text>
<text x="484.2" y="498.50" style="font-family:'Liberation Sans', Arial, sans-serif;font-weight:bold" stroke-width="0.22400000000000003"><tspan font-size="7.73" fill="#000" stroke="#000">Mut-Probe-M1:</tspan><tspan font-size="7.21" fill="#000" stroke="#000" dx="2.6">GCAATTAAAAAAGTTC</tspan><tspan font-size="7.21" fill="#e8202a" stroke="#e8202a">AAAAAAAAAAAA</tspan><tspan font-size="7.21" fill="#000" stroke="#000">GTATC</tspan></text>
<text x="484.2" y="513.50" style="font-family:'Liberation Sans', Arial, sans-serif;font-weight:bold" stroke-width="0.22400000000000003"><tspan font-size="7.73" fill="#000" stroke="#000">FAM-Probe-M5:</tspan><tspan font-size="7.21" fill="#000" stroke="#000" dx="2.6">CTA</tspan><tspan font-size="7.21" fill="#e8202a" stroke="#e8202a">CTGGTGAGCTTCGTAG</tspan><tspan font-size="7.21" fill="#000" stroke="#000">TTTAGCCGTCATATTCCATC</tspan></text>
<text x="484.2" y="528.40" style="font-family:'Liberation Sans', Arial, sans-serif;font-weight:bold" stroke-width="0.22400000000000003"><tspan font-size="7.73" fill="#000" stroke="#000">Mut-Probe-M5:</tspan><tspan font-size="7.21" fill="#000" stroke="#000" dx="2.6">CTA</tspan><tspan font-size="7.21" fill="#e8202a" stroke="#e8202a">AAAAAAAAAAAAAAAA</tspan><tspan font-size="7.21" fill="#000" stroke="#000">TTTAGCCGTCATATTCCATC</tspan></text>
<text x="359.90" y="553.70" text-anchor="end" fill="#000" style="font-family:'Liberation Sans', Arial, sans-serif;font-size:9.4px;font-weight:bold;font-style:normal" stroke="#000" stroke-width="0.28">His-CitMYB16</text>
<text x="379.30" y="553.70" text-anchor="middle" fill="#000" style="font-family:'Liberation Sans', Arial, sans-serif;font-size:10.0px;font-weight:bold;font-style:normal" stroke="#000" stroke-width="0.28">-</text>
<text x="407.00" y="553.70" text-anchor="middle" fill="#000" style="font-family:'Liberation Sans', Arial, sans-serif;font-size:10.0px;font-weight:bold;font-style:normal" stroke="#000" stroke-width="0.28">+</text>
<text x="437.50" y="553.70" text-anchor="middle" fill="#000" style="font-family:'Liberation Sans', Arial, sans-serif;font-size:10.0px;font-weight:bold;font-style:normal" stroke="#000" stroke-width="0.28">+</text>
<text x="465.50" y="553.70" text-anchor="middle" fill="#000" style="font-family:'Liberation Sans', Arial, sans-serif;font-size:10.0px;font-weight:bold;font-style:normal" stroke="#000" stroke-width="0.28">+</text>
<text x="494.80" y="553.70" text-anchor="middle" fill="#000" style="font-family:'Liberation Sans', Arial, sans-serif;font-size:10.0px;font-weight:bold;font-style:normal" stroke="#000" stroke-width="0.28">+</text>
<text x="359.90" y="566.20" text-anchor="end" fill="#000" style="font-family:'Liberation Sans', Arial, sans-serif;font-size:9.4px;font-weight:bold;font-style:normal" stroke="#000" stroke-width="0.28">FAM-Probe-M1</text>
<text x="379.30" y="566.20" text-anchor="middle" fill="#000" style="font-family:'Liberation Sans', Arial, sans-serif;font-size:10.0px;font-weight:bold;font-style:normal" stroke="#000" stroke-width="0.28">+</text>
<text x="407.00" y="566.20" text-anchor="middle" fill="#000" style="font-family:'Liberation Sans', Arial, sans-serif;font-size:10.0px;font-weight:bold;font-style:normal" stroke="#000" stroke-width="0.28">+</text>
<text x="437.50" y="566.20" text-anchor="middle" fill="#000" style="font-family:'Liberation Sans', Arial, sans-serif;font-size:10.0px;font-weight:bold;font-style:normal" stroke="#000" stroke-width="0.28">+</text>
<text x="465.50" y="566.20" text-anchor="middle" fill="#000" style="font-family:'Liberation Sans', Arial, sans-serif;font-size:10.0px;font-weight:bold;font-style:normal" stroke="#000" stroke-width="0.28">+</text>
<text x="494.80" y="566.20" text-anchor="middle" fill="#000" style="font-family:'Liberation Sans', Arial, sans-serif;font-size:10.0px;font-weight:bold;font-style:normal" stroke="#000" stroke-width="0.28">+</text>
<text x="359.90" y="579.40" text-anchor="end" fill="#000" style="font-family:'Liberation Sans', Arial, sans-serif;font-size:9.4px;font-weight:bold;font-style:normal" stroke="#000" stroke-width="0.28">Competitor</text>
<text x="379.30" y="579.40" text-anchor="middle" fill="#000" style="font-family:'Liberation Sans', Arial, sans-serif;font-size:10.0px;font-weight:bold;font-style:normal" stroke="#000" stroke-width="0.28">-</text>
<text x="407.00" y="579.40" text-anchor="middle" fill="#000" style="font-family:'Liberation Sans', Arial, sans-serif;font-size:10.0px;font-weight:bold;font-style:normal" stroke="#000" stroke-width="0.28">-</text>
<text x="437.50" y="579.40" text-anchor="middle" fill="#000" style="font-family:'Liberation Sans', Arial, sans-serif;font-size:10.0px;font-weight:bold;font-style:normal" stroke="#000" stroke-width="0.28">10×</text>
<text x="465.50" y="579.40" text-anchor="middle" fill="#000" style="font-family:'Liberation Sans', Arial, sans-serif;font-size:10.0px;font-weight:bold;font-style:normal" stroke="#000" stroke-width="0.28">20×</text>
<text x="494.80" y="579.40" text-anchor="middle" fill="#000" style="font-family:'Liberation Sans', Arial, sans-serif;font-size:10.0px;font-weight:bold;font-style:normal" stroke="#000" stroke-width="0.28">-</text>
<text x="359.90" y="592.80" text-anchor="end" fill="#000" style="font-family:'Liberation Sans', Arial, sans-serif;font-size:9.4px;font-weight:bold;font-style:normal" stroke="#000" stroke-width="0.28">Mut-Probe-M1</text>
<text x="379.30" y="592.80" text-anchor="middle" fill="#000" style="font-family:'Liberation Sans', Arial, sans-serif;font-size:10.0px;font-weight:bold;font-style:normal" stroke="#000" stroke-width="0.28">-</text>
<text x="407.00" y="592.80" text-anchor="middle" fill="#000" style="font-family:'Liberation Sans', Arial, sans-serif;font-size:10.0px;font-weight:bold;font-style:normal" stroke="#000" stroke-width="0.28">-</text>
<text x="437.50" y="592.80" text-anchor="middle" fill="#000" style="font-family:'Liberation Sans', Arial, sans-serif;font-size:10.0px;font-weight:bold;font-style:normal" stroke="#000" stroke-width="0.28">-</text>
<text x="465.50" y="592.80" text-anchor="middle" fill="#000" style="font-family:'Liberation Sans', Arial, sans-serif;font-size:10.0px;font-weight:bold;font-style:normal" stroke="#000" stroke-width="0.28">-</text>
<text x="494.80" y="592.80" text-anchor="middle" fill="#000" style="font-family:'Liberation Sans', Arial, sans-serif;font-size:10.0px;font-weight:bold;font-style:normal" stroke="#000" stroke-width="0.28">+</text>
<text x="584.00" y="552.80" text-anchor="end" fill="#000" style="font-family:'Liberation Sans', Arial, sans-serif;font-size:9.4px;font-weight:bold;font-style:normal" stroke="#000" stroke-width="0.28">His-CitMYB16</text>
<text x="593.00" y="552.80" text-anchor="middle" fill="#000" style="font-family:'Liberation Sans', Arial, sans-serif;font-size:10.0px;font-weight:bold;font-style:normal" stroke="#000" stroke-width="0.28">-</text>
<text x="626.60" y="552.80" text-anchor="middle" fill="#000" style="font-family:'Liberation Sans', Arial, sans-serif;font-size:10.0px;font-weight:bold;font-style:normal" stroke="#000" stroke-width="0.28">+</text>
<text x="657.10" y="552.80" text-anchor="middle" fill="#000" style="font-family:'Liberation Sans', Arial, sans-serif;font-size:10.0px;font-weight:bold;font-style:normal" stroke="#000" stroke-width="0.28">+</text>
<text x="684.40" y="552.80" text-anchor="middle" fill="#000" style="font-family:'Liberation Sans', Arial, sans-serif;font-size:10.0px;font-weight:bold;font-style:normal" stroke="#000" stroke-width="0.28">+</text>
<text x="714.20" y="552.80" text-anchor="middle" fill="#000" style="font-family:'Liberation Sans', Arial, sans-serif;font-size:10.0px;font-weight:bold;font-style:normal" stroke="#000" stroke-width="0.28">+</text>
<text x="584.00" y="565.00" text-anchor="end" fill="#000" style="font-family:'Liberation Sans', Arial, sans-serif;font-size:9.4px;font-weight:bold;font-style:normal" stroke="#000" stroke-width="0.28">FAM-Probe-M5</text>
<text x="593.00" y="565.00" text-anchor="middle" fill="#000" style="font-family:'Liberation Sans', Arial, sans-serif;font-size:10.0px;font-weight:bold;font-style:normal" stroke="#000" stroke-width="0.28">+</text>
<text x="626.60" y="565.00" text-anchor="middle" fill="#000" style="font-family:'Liberation Sans', Arial, sans-serif;font-size:10.0px;font-weight:bold;font-style:normal" stroke="#000" stroke-width="0.28">+</text>
<text x="657.10" y="565.00" text-anchor="middle" fill="#000" style="font-family:'Liberation Sans', Arial, sans-serif;font-size:10.0px;font-weight:bold;font-style:normal" stroke="#000" stroke-width="0.28">+</text>
<text x="684.40" y="565.00" text-anchor="middle" fill="#000" style="font-family:'Liberation Sans', Arial, sans-serif;font-size:10.0px;font-weight:bold;font-style:normal" stroke="#000" stroke-width="0.28">+</text>
<text x="714.20" y="565.00" text-anchor="middle" fill="#000" style="font-family:'Liberation Sans', Arial, sans-serif;font-size:10.0px;font-weight:bold;font-style:normal" stroke="#000" stroke-width="0.28">+</text>
<text x="584.00" y="577.80" text-anchor="end" fill="#000" style="font-family:'Liberation Sans', Arial, sans-serif;font-size:9.4px;font-weight:bold;font-style:normal" stroke="#000" stroke-width="0.28">Competitor</text>
<text x="593.00" y="577.80" text-anchor="middle" fill="#000" style="font-family:'Liberation Sans', Arial, sans-serif;font-size:10.0px;font-weight:bold;font-style:normal" stroke="#000" stroke-width="0.28">-</text>
<text x="626.60" y="577.80" text-anchor="middle" fill="#000" style="font-family:'Liberation Sans', Arial, sans-serif;font-size:10.0px;font-weight:bold;font-style:normal" stroke="#000" stroke-width="0.28">-</text>
<text x="657.10" y="577.80" text-anchor="middle" fill="#000" style="font-family:'Liberation Sans', Arial, sans-serif;font-size:10.0px;font-weight:bold;font-style:normal" stroke="#000" stroke-width="0.28">10×</text>
<text x="684.40" y="577.80" text-anchor="middle" fill="#000" style="font-family:'Liberation Sans', Arial, sans-serif;font-size:10.0px;font-weight:bold;font-style:normal" stroke="#000" stroke-width="0.28">20×</text>
<text x="714.20" y="577.80" text-anchor="middle" fill="#000" style="font-family:'Liberation Sans', Arial, sans-serif;font-size:10.0px;font-weight:bold;font-style:normal" stroke="#000" stroke-width="0.28">-</text>
<text x="584.00" y="591.30" text-anchor="end" fill="#000" style="font-family:'Liberation Sans', Arial, sans-serif;font-size:9.4px;font-weight:bold;font-style:normal" stroke="#000" stroke-width="0.28">Mut-Probe-M5</text>
<text x="593.00" y="591.30" text-anchor="middle" fill="#000" style="font-family:'Liberation Sans', Arial, sans-serif;font-size:10.0px;font-weight:bold;font-style:normal" stroke="#000" stroke-width="0.28">-</text>
<text x="626.60" y="591.30" text-anchor="middle" fill="#000" style="font-family:'Liberation Sans', Arial, sans-serif;font-size:10.0px;font-weight:bold;font-style:normal" stroke="#000" stroke-width="0.28">-</text>
<text x="657.10" y="591.30" text-anchor="middle" fill="#000" style="font-family:'Liberation Sans', Arial, sans-serif;font-size:10.0px;font-weight:bold;font-style:normal" stroke="#000" stroke-width="0.28">-</text>
<text x="684.40" y="591.30" text-anchor="middle" fill="#000" style="font-family:'Liberation Sans', Arial, sans-serif;font-size:10.0px;font-weight:bold;font-style:normal" stroke="#000" stroke-width="0.28">-</text>
<text x="714.20" y="591.30" text-anchor="middle" fill="#000" style="font-family:'Liberation Sans', Arial, sans-serif;font-size:10.0px;font-weight:bold;font-style:normal" stroke="#000" stroke-width="0.28">+</text>
<rect x="361.5" y="598.3" width="160" height="113.3" fill="#f4f4f4"/>
<rect x="447.0" y="604" width="8.0" height="60" fill="#fbfbfb" filter="url(#bl1)"/>
<rect x="476.0" y="604" width="7.0" height="60" fill="#fbfbfb" filter="url(#bl1)"/>
<rect x="426.8" y="608" width="19.5" height="96" fill="#000" opacity="0.022" filter="url(#bl1)"/>
<rect x="455.3" y="608" width="20.19999999999999" height="96" fill="#000" opacity="0.022" filter="url(#bl1)"/>
<path d="M399.90,602.30 Q401.70,602.30 402.90,605.80 Q404.10,606.30 405.90,606.30 L414.10,606.30 Q415.90,606.30 417.10,605.80 Q418.30,602.30 420.10,602.30 L420.10,612.30 Q420.10,613.30 419.10,613.30 L400.90,613.30 Q399.90,613.30 399.90,612.30 Z" fill="#050505" opacity="1.0" filter="url(#bl06)"/>
<rect x="427.30" y="610.50" width="18.50" height="26.00" fill="url(#smearG)" opacity="0.35" filter="url(#bl1)"/>
<rect x="427.60" y="611.00" width="17.90" height="9.00" fill="url(#bandG)" opacity="0.55" filter="url(#bl1)"/>
<rect x="426.80" y="610.20" width="1.6" height="11.00" fill="#000" opacity="0.75" filter="url(#bl06)"/>
<rect x="444.70" y="610.20" width="1.6" height="11.00" fill="#000" opacity="0.75" filter="url(#bl06)"/>
<rect x="455.80" y="610.00" width="19.20" height="26.00" fill="url(#smearG)" opacity="0.2" filter="url(#bl1)"/>
<rect x="456.10" y="610.50" width="18.60" height="9.00" fill="url(#bandG)" opacity="0.22" filter="url(#bl1)"/>
<rect x="455.30" y="609.70" width="1.6" height="11.00" fill="#000" opacity="0.4" filter="url(#bl06)"/>
<rect x="473.90" y="609.70" width="1.6" height="11.00" fill="#000" opacity="0.4" filter="url(#bl06)"/>
<path d="M483.30,607.90 Q485.10,607.90 486.30,610.90 Q487.50,611.40 489.30,611.40 L499.30,611.40 Q501.10,611.40 502.30,610.90 Q503.50,607.90 505.30,607.90 L505.30,617.90 Q505.30,618.90 504.30,618.90 L484.30,618.90 Q483.30,618.90 483.30,617.90 Z" fill="#050505" opacity="1.0" filter="url(#bl06)"/>
<rect x="374.50" y="681.70" width="16.50" height="16.00" fill="url(#glowW)" opacity="0.72" filter="url(#bl1)"/>
<rect x="373.50" y="697.70" width="18.50" height="7.70" rx="1.5" fill="#050505" opacity="1.0" filter="url(#bl06)"/>
<rect x="462.30" y="684.90" width="15.30" height="14.00" fill="url(#glowW)" opacity="0.48" filter="url(#bl1)"/>
<rect x="461.30" y="698.90" width="17.30" height="5.80" rx="1.5" fill="#050505" opacity="0.22" filter="url(#bl06)"/>
<circle cx="378.10" cy="677.60" r="0.90" fill="#111" opacity="0.85"/>
<circle cx="449.70" cy="670.50" r="0.80" fill="#111" opacity="0.85"/>
<circle cx="397.70" cy="689.20" r="0.80" fill="#111" opacity="0.85"/>
<circle cx="366.00" cy="696.60" r="0.80" fill="#111" opacity="0.85"/>
<circle cx="366.50" cy="702.40" r="0.80" fill="#111" opacity="0.85"/>
<circle cx="407.00" cy="627.00" r="0.70" fill="#111" opacity="0.85"/>
<circle cx="443.50" cy="615.00" r="0.70" fill="#111" opacity="0.85"/>
<text x="344.20" y="609.90" text-anchor="end" fill="#000" style="font-family:'Liberation Sans', Arial, sans-serif;font-size:9.45px;font-weight:bold;font-style:normal" stroke="#000" stroke-width="0.28">Bound probe</text>
<path d="M345.20,606.00 L354.90,606.00 L354.90,604.30 L359.90,607.30 L354.90,610.30 L354.90,608.60 L345.20,608.60 Z" fill="#000"/>
<text x="344.20" y="704.80" text-anchor="end" fill="#000" style="font-family:'Liberation Sans', Arial, sans-serif;font-size:9.45px;font-weight:bold;font-style:normal" stroke="#000" stroke-width="0.28">Free probe</text>
<path d="M345.20,700.70 L354.90,700.70 L354.90,699.00 L359.90,702.00 L354.90,705.00 L354.90,703.30 L345.20,703.30 Z" fill="#000"/>
<rect x="521.5" y="598" width="214.5" height="114" fill="#fbfbfb"/>
<rect x="616.20" y="607.40" width="20.30" height="5.60" rx="1.2" fill="#050505" opacity="1.0" filter="url(#bl06)"/>
<rect x="646.10" y="608.50" width="19.20" height="34.00" fill="url(#smearG)" opacity="0.35" filter="url(#bl1)"/>
<rect x="646.40" y="609.00" width="18.60" height="8.00" fill="url(#bandG)" opacity="0.7" filter="url(#bl1)"/>
<rect x="645.60" y="608.20" width="1.6" height="10.00" fill="#000" opacity="0.9" filter="url(#bl06)"/>
<rect x="664.20" y="608.20" width="1.6" height="10.00" fill="#000" opacity="0.9" filter="url(#bl06)"/>
<rect x="676.50" y="608.50" width="18.80" height="34.00" fill="url(#smearG)" opacity="0.18" filter="url(#bl1)"/>
<rect x="676.80" y="609.00" width="18.20" height="8.00" fill="url(#bandG)" opacity="0.2" filter="url(#bl1)"/>
<rect x="676.00" y="608.20" width="1.6" height="10.00" fill="#000" opacity="0.4" filter="url(#bl06)"/>
<rect x="694.20" y="608.20" width="1.6" height="10.00" fill="#000" opacity="0.4" filter="url(#bl06)"/>
<rect x="706.90" y="608.30" width="19.30" height="16.00" fill="url(#smearG)" opacity="0.35" filter="url(#bl1)"/>
<rect x="707.20" y="608.80" width="18.70" height="9.00" fill="url(#bandG)" opacity="0.95" filter="url(#bl1)"/>
<rect x="706.40" y="608.00" width="1.6" height="11.00" fill="#000" opacity="1.0" filter="url(#bl06)"/>
<rect x="725.10" y="608.00" width="1.6" height="11.00" fill="#000" opacity="1.0" filter="url(#bl06)"/>
<rect x="583.40" y="675.10" width="19.40" height="20.00" fill="url(#glowW)" opacity="0.60" filter="url(#bl1)"/>
<rect x="582.40" y="695.10" width="21.40" height="6.10" rx="1.5" fill="#050505" opacity="1.0" filter="url(#bl06)"/>
<rect x="614.00" y="698.50" width="18.00" height="3.00" rx="1.5" fill="#050505" opacity="0.06" filter="url(#bl06)"/>
<rect x="646.60" y="682.70" width="17.10" height="14.00" fill="url(#glowW)" opacity="0.30" filter="url(#bl1)"/>
<rect x="645.60" y="696.70" width="19.10" height="4.50" rx="1.5" fill="#050505" opacity="0.18" filter="url(#bl06)"/>
<rect x="677.00" y="678.00" width="18.30" height="18.00" fill="url(#glowW)" opacity="0.48" filter="url(#bl1)"/>
<rect x="676.00" y="696.00" width="20.30" height="5.20" rx="1.5" fill="#050505" opacity="0.65" filter="url(#bl06)"/>
<rect x="708.70" y="697.50" width="20.30" height="3.30" rx="1.5" fill="#050505" opacity="0.08" filter="url(#bl06)"/>
<circle cx="575.00" cy="602.00" r="0.60" fill="#111" opacity="0.6"/>
<circle cx="659.00" cy="618.00" r="0.60" fill="#111" opacity="0.6"/>
<circle cx="710.00" cy="654.00" r="0.60" fill="#111" opacity="0.6"/>
<path d="M558.20,609.80 L567.80,609.80 L567.80,608.10 L572.80,611.10 L567.80,614.10 L567.80,612.40 L558.20,612.40 Z" fill="#000"/>
<path d="M561.10,697.30 L570.20,697.30 L570.20,695.60 L575.20,698.60 L570.20,701.60 L570.20,699.90 L561.10,699.90 Z" fill="#000"/>
</svg></body></html>
